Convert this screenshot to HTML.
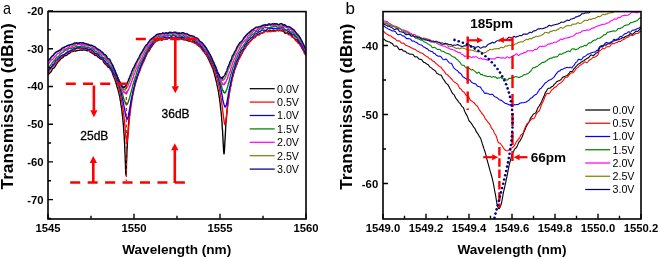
<!DOCTYPE html>
<html><head><meta charset="utf-8"><style>
html,body{margin:0;padding:0;background:#fff;width:660px;height:259px;overflow:hidden}
svg{display:block;will-change:transform}
text{font-family:"Liberation Sans", sans-serif;fill:#000}
.tk{font-size:11.3px;font-weight:bold}
.lg{font-size:10.7px}
.an{font-size:12px;stroke:#000;stroke-width:0.3px}
.an2{font-size:13.5px;font-weight:bold}
.ax{font-size:13.6px;font-weight:bold}
.ay{font-size:17.3px;font-weight:bold}
.pl{font-size:16px}
</style></head><body>
<svg width="660" height="259" viewBox="0 0 660 259">
<defs>
<clipPath id="cl"><rect x="48.0" y="11.0" width="258.0" height="207.5"/></clipPath>
<clipPath id="cr"><rect x="383.0" y="11.0" width="258.0" height="207.0"/></clipPath>
</defs>
<g clip-path="url(#cl)" fill="none" stroke-width="1.35" stroke-linejoin="round">
<path d="M48.0 74.8l0.5 -0.5l0.5 -0.4l0.5 -0.7l0.5 -0.5l0.5 -0.4l0.5 -0.5l0.5 -0.8l0.5 -1.2l0.5 -1.0l0.5 -0.4l0.5 -0.2l0.5 -0.3l0.5 -0.5l0.5 -0.7l0.5 -0.9l0.5 -0.9l0.5 -0.8l0.4 -0.7l0.5 -0.6l0.5 -0.8l0.5 -0.7l0.5 -0.4l0.5 -0.3l0.5 -0.6l0.5 -0.7l0.5 -0.7l0.5 -0.2l0.5 -0.3l0.5 -0.4l0.5 -0.3l0.5 -0.5l0.5 -0.6l0.5 -0.5l0.5 -0.2l0.5 0.1l0.5 -0.1l0.5 -0.3l0.5 -0.3l0.5 -0.3l0.5 -0.6l0.5 -0.5l0.5 -0.1l0.5 -0.1l0.5 -0.4l0.5 -0.6l0.5 -0.5l0.5 -0.3l0.5 -0.1l0.5 -0.1l0.5 0.1l0.5 -0.1l0.4 -0.3l0.5 -0.2l0.5 0.0l0.5 0.1l0.5 0.0l0.5 -0.1l0.5 -0.3l0.5 -0.2l0.5 0.1l0.5 -0.1l0.5 -0.1l0.5 -0.0l0.5 0.1l0.5 -0.2l0.5 -0.4l0.5 0.0l0.5 0.4l0.5 -0.0l0.5 -0.2l0.5 -0.2l0.5 -0.0l0.5 0.2l0.5 0.2l0.5 -0.1l0.5 -0.0l0.5 0.2l0.5 0.4l0.5 0.0l0.5 -0.3l0.5 -0.1l0.5 0.1l0.5 0.4l0.5 0.5l0.5 0.7l0.5 0.4l0.4 0.2l0.5 0.2l0.5 0.4l0.5 0.4l0.5 0.2l0.5 0.1l0.5 0.5l0.5 0.7l0.5 0.4l0.5 -0.1l0.5 -0.1l0.5 0.3l0.5 0.5l0.5 0.6l0.5 0.4l0.5 0.3l0.5 0.4l0.5 0.5l0.5 0.5l0.5 0.2l0.5 0.2l0.5 0.1l0.5 0.1l0.5 0.6l0.5 1.1l0.5 1.1l0.5 0.8l0.5 0.5l0.5 0.5l0.5 0.5l0.5 0.2l0.5 0.5l0.5 0.8l0.5 0.8l0.5 0.3l0.4 0.2l0.5 0.1l0.5 0.5l0.5 0.9l0.5 0.8l0.5 0.8l0.5 0.8l0.5 1.0l0.5 1.4l0.5 1.6l0.5 1.3l0.5 1.1l0.5 1.0l0.5 1.3l0.0 0.3l0.1 0.4l0.1 0.5l0.2 0.4l0.1 0.3l0.0 -0.4l0.1 0.1l0.2 0.7l0.1 1.0l0.1 0.6l0.0 -0.1l0.1 -0.0l0.2 0.1l0.1 0.5l0.1 0.3l0.0 0.3l0.2 0.7l0.1 0.6l0.1 0.5l0.1 0.1l0.1 0.3l0.1 0.5l0.1 0.4l0.1 0.2l0.1 0.1l0.1 0.2l0.1 0.4l0.1 0.3l0.2 0.4l-0.0 0.3l0.1 0.7l0.1 0.6l0.2 0.4l0.1 0.4l-0.0 -0.3l0.1 0.4l0.1 0.6l0.2 0.6l0.1 0.6l0.0 0.3l0.1 0.7l0.2 0.6l0.1 0.3l0.1 0.1l0.0 0.0l0.2 0.9l0.1 1.0l0.1 1.0l0.1 0.4l0.0 0.3l0.2 0.8l0.1 0.6l0.1 0.6l0.1 0.2l0.1 0.6l0.1 1.0l0.1 1.1l0.2 1.1l-0.0 0.2l0.1 0.5l0.1 0.5l0.1 0.6l0.2 0.8l-0.0 -0.2l0.1 0.9l0.1 1.2l0.2 1.4l0.1 1.2l-0.0 0.3l0.1 1.0l0.1 1.0l0.2 0.9l0.1 0.6l0.0 0.3l0.1 1.5l0.2 1.4l0.1 1.4l0.1 0.7l0.0 0.7l0.2 1.4l0.1 1.5l0.1 1.7l0.1 0.7l0.0 1.4l0.2 1.8l0.1 1.7l0.1 1.6l0.1 -0.0l0.1 1.7l0.1 2.5l0.1 2.5l0.2 2.4l-0.0 -0.0l0.1 2.6l0.1 3.1l0.1 3.1l0.2 2.6l-0.0 0.4l0.1 3.4l0.1 3.6l0.2 3.5l0.0 2.4l0.1 1.4l0.1 3.3l0.2 1.9l0.1 0.5l0.0 -0.5l0.1 -0.5l0.1 -2.0l0.2 -3.3l0.1 -4.0l0.0 -1.5l0.1 -2.5l0.2 -3.5l0.1 -3.5l0.1 -3.4l0.0 -0.5l0.2 -2.5l0.1 -2.7l0.1 -2.6l0.1 -2.3l0.0 -0.1l0.2 -2.4l0.1 -2.1l0.1 -1.8l0.1 -1.4l0.1 -0.5l0.1 -2.3l0.1 -2.1l0.2 -1.8l0.0 -1.0l0.1 -0.5l0.1 -1.4l0.1 -1.4l0.2 -1.4l0.0 -0.6l0.1 -0.9l0.1 -1.3l0.2 -1.1l0.1 -1.2l0.0 -0.5l0.1 -0.9l0.1 -0.9l0.2 -0.9l0.1 -1.0l0.0 -0.0l0.1 -0.8l0.2 -1.2l0.1 -1.2l0.1 -0.9l0.0 -0.2l0.2 -0.8l0.1 -0.6l0.1 -0.6l0.1 -0.5l0.0 -0.5l0.2 -1.2l0.1 -0.9l0.1 -0.9l0.1 -0.4l0.1 -0.1l0.1 -0.3l0.1 -0.4l0.2 -0.7l0.0 -0.4l0.1 -0.4l0.1 -0.7l0.1 -0.7l0.2 -0.6l0.0 -0.1l0.1 -0.7l0.1 -1.0l0.2 -0.9l0.1 -0.9l0.0 -0.0l0.1 -0.2l0.2 -0.1l0.1 -0.5l0.1 -0.9l0.0 -0.4l0.1 -0.6l0.2 -0.4l0.1 -0.4l0.1 -0.3l0.0 0.0l0.2 -0.3l0.1 -0.2l0.1 -0.5l0.1 -0.3l0.1 -0.4l0.1 -0.8l0.1 -0.9l0.1 -1.0l0.1 -0.5l0.1 -0.1l0.1 -0.1l0.1 -0.3l0.2 -0.4l-0.0 0.0l0.1 -0.1l0.1 -0.1l0.3 -0.7l0.5 -1.9l0.5 -1.9l0.5 -1.6l0.5 -1.3l0.5 -1.3l0.5 -1.4l0.5 -1.4l0.5 -1.4l0.5 -1.4l0.5 -1.1l0.5 -1.1l0.5 -1.1l0.5 -1.1l0.4 -1.2l0.5 -1.2l0.5 -1.4l0.5 -1.1l0.5 -0.6l0.5 -0.7l0.5 -1.0l0.5 -1.1l0.5 -1.0l0.5 -1.0l0.5 -0.9l0.5 -0.5l0.5 -0.4l0.5 -0.6l0.5 -1.1l0.5 -1.2l0.5 -0.6l0.5 -0.5l0.5 -0.8l0.5 -0.8l0.5 -0.7l0.5 -0.6l0.5 -0.8l0.5 -0.7l0.5 -0.5l0.5 -0.6l0.5 -0.5l0.5 -0.2l0.5 -0.0l0.5 -0.1l0.5 -0.3l0.5 -0.3l0.5 -0.3l0.5 -0.2l0.4 -0.2l0.5 -0.1l0.5 0.2l0.5 0.5l0.5 0.1l0.5 -0.3l0.5 -0.4l0.5 -0.2l0.5 0.0l0.5 0.1l0.5 0.0l0.5 -0.2l0.5 -0.3l0.5 -0.0l0.5 0.2l0.5 -0.0l0.5 -0.4l0.5 -0.4l0.5 -0.1l0.5 -0.1l0.5 -0.3l0.5 -0.3l0.5 -0.1l0.5 0.1l0.5 0.0l0.5 0.1l0.5 0.2l0.5 0.0l0.5 -0.1l0.5 -0.1l0.5 0.2l0.5 0.3l0.5 -0.0l0.5 -0.2l0.5 0.1l0.4 -0.0l0.5 0.0l0.5 0.2l0.5 0.2l0.5 -0.0l0.5 -0.2l0.5 -0.0l0.5 0.2l0.5 0.2l0.5 0.2l0.5 0.2l0.5 0.4l0.5 0.3l0.5 0.1l0.5 0.1l0.5 -0.1l0.5 -0.1l0.5 0.1l0.5 0.2l0.5 0.2l0.5 0.2l0.5 0.3l0.5 0.2l0.5 0.1l0.5 -0.1l0.5 0.1l0.5 0.3l0.5 0.0l0.5 0.1l0.5 0.1l0.5 0.2l0.5 0.2l0.5 0.5l0.5 0.3l0.5 0.1l0.4 -0.2l0.5 0.1l0.5 0.4l0.5 0.6l0.5 0.4l0.5 0.4l0.5 0.3l0.5 0.4l0.5 0.5l0.5 0.6l0.5 0.4l0.5 0.1l0.5 0.0l0.5 0.5l0.5 1.0l0.5 1.2l0.5 0.9l0.5 0.5l0.5 0.5l0.5 0.6l0.5 0.7l0.5 0.8l0.5 0.7l0.5 0.7l0.5 0.7l0.5 0.6l0.5 1.0l0.5 1.2l0.5 1.1l0.5 0.8l0.5 1.1l0.5 1.2l0.5 1.1l0.5 1.0l0.4 1.0l0.5 1.1l0.5 1.1l0.5 1.2l0.1 0.2l0.1 0.5l0.2 0.4l0.1 0.5l0.0 0.4l0.1 0.6l0.2 0.3l0.1 0.2l0.1 0.3l0.0 0.1l0.2 0.4l0.1 0.4l0.1 0.4l0.1 0.6l0.0 0.3l0.2 0.5l0.1 0.5l0.1 0.4l0.1 0.2l0.1 -0.1l0.1 0.4l0.1 0.7l0.2 0.7l0.0 0.3l0.1 0.4l0.1 0.7l0.1 0.5l0.2 0.3l0.0 0.1l0.1 0.4l0.1 0.7l0.2 0.5l0.1 0.2l0.0 -0.2l0.1 0.5l0.2 0.8l0.1 0.8l0.1 0.8l0.0 0.1l0.1 0.5l0.2 0.5l0.1 0.7l0.1 0.4l0.0 -0.3l0.2 0.5l0.1 0.8l0.1 0.9l0.1 0.5l0.1 0.3l0.1 0.8l0.1 0.5l0.1 0.7l0.1 0.4l0.1 0.5l0.1 0.9l0.1 0.8l0.2 0.8l0.0 0.5l0.1 0.7l0.1 1.0l0.2 0.7l0.1 0.5l0.0 -0.1l0.1 0.8l0.1 1.0l0.2 1.1l0.1 0.9l0.1 0.9l0.2 1.5l0.1 1.9l0.1 1.3l0.0 -0.2l0.1 0.5l0.2 1.0l0.1 1.3l0.1 0.8l0.0 0.5l0.2 1.2l0.1 1.2l0.1 1.4l0.1 0.9l0.1 0.9l0.1 1.5l0.1 1.4l0.1 1.4l0.1 0.7l0.1 1.9l0.1 2.3l0.1 1.8l0.2 1.6l-0.0 -0.0l0.1 2.0l0.1 2.5l0.2 2.5l0.1 2.2l-0.0 0.0l0.1 2.4l0.1 2.4l0.2 2.3l0.1 1.8l0.0 0.5l0.1 2.3l0.2 1.9l0.1 1.0l0.1 0.2l0.0 -0.2l0.2 -0.4l0.1 -0.9l0.1 -1.4l0.1 -0.9l0.0 -1.3l0.2 -2.6l0.1 -2.6l0.1 -2.6l0.1 -0.7l0.1 -1.4l0.1 -2.3l0.1 -2.5l0.2 -2.3l-0.0 -0.4l0.1 -2.3l0.1 -2.3l0.1 -2.0l0.2 -1.9l-0.0 -0.2l0.1 -1.5l0.1 -1.3l0.2 -1.4l0.1 -1.1l-0.0 -0.1l0.1 -1.4l0.2 -1.7l0.1 -1.6l0.1 -1.0l0.0 -0.6l0.1 -1.3l0.2 -1.1l0.1 -1.3l0.1 -0.7l0.0 -0.9l0.2 -1.2l0.1 -1.0l0.1 -1.0l0.1 -0.2l0.0 -0.7l0.2 -1.0l0.1 -0.9l0.1 -0.8l0.1 0.1l0.1 -0.7l0.1 -1.0l0.1 -1.2l0.1 -0.9l0.1 0.1l0.1 -0.7l0.1 -0.7l0.1 -0.5l0.1 -0.5l0.1 -0.3l0.1 -0.8l0.1 -0.8l0.2 -0.9l0.0 -0.7l0.1 -0.6l0.1 -1.0l0.2 -0.8l0.1 -0.5l0.0 0.2l0.1 0.1l0.1 -0.4l0.2 -0.5l0.1 -0.7l0.0 -0.5l0.1 -1.1l0.2 -0.9l0.1 -0.5l0.1 -0.2l0.0 0.1l0.2 -0.6l0.1 -0.7l0.1 -0.8l0.1 -0.9l0.0 -0.4l0.2 -0.5l0.1 -0.3l0.1 -0.2l0.1 -0.2l0.1 -0.3l0.1 -0.5l0.1 -0.1l0.2 -0.1l0.0 -0.1l0.1 -0.4l0.1 -0.7l0.1 -0.3l0.2 -0.2l0.0 -0.2l0.1 -0.6l0.1 -0.8l0.2 -0.4l0.1 -0.4l0.5 -1.6l0.5 -1.7l0.5 -1.4l0.5 -1.3l0.5 -1.1l0.5 -1.1l0.5 -1.3l0.5 -1.5l0.5 -1.5l0.5 -1.2l0.5 -0.8l0.5 -0.6l0.5 -1.1l0.5 -1.1l0.5 -0.8l0.5 -0.7l0.5 -0.9l0.5 -1.2l0.5 -1.0l0.5 -0.7l0.5 -0.7l0.5 -0.6l0.5 -0.7l0.4 -1.0l0.5 -1.2l0.5 -0.6l0.5 -0.5l0.5 -0.5l0.5 -0.6l0.5 -0.6l0.5 -0.6l0.5 -0.5l0.5 -0.5l0.5 -0.5l0.5 -0.4l0.5 -0.5l0.5 -0.6l0.5 -0.7l0.5 -0.7l0.5 -0.5l0.5 -0.2l0.5 -0.2l0.5 -0.3l0.5 -0.6l0.5 -0.5l0.5 -0.4l0.5 -0.3l0.5 -0.2l0.5 -0.2l0.5 -0.3l0.5 -0.3l0.5 -0.4l0.5 -0.3l0.5 -0.0l0.5 0.1l0.5 -0.0l0.5 -0.2l0.5 -0.2l0.4 -0.4l0.5 -0.5l0.5 -0.5l0.5 -0.4l0.5 -0.2l0.5 0.1l0.5 0.2l0.5 0.2l0.5 0.2l0.5 -0.1l0.5 -0.5l0.5 -0.5l0.5 -0.0l0.5 -0.0l0.5 0.0l0.5 0.2l0.5 0.4l0.5 0.1l0.5 -0.2l0.5 -0.5l0.5 -0.3l0.5 0.2l0.5 0.3l0.5 0.1l0.5 0.1l0.5 -0.1l0.5 -0.3l0.5 -0.3l0.5 -0.0l0.5 0.3l0.5 0.3l0.5 0.0l0.5 -0.3l0.5 -0.1l0.5 0.3l0.4 0.1l0.5 -0.1l0.5 -0.0l0.5 0.2l0.5 0.2l0.5 0.1l0.5 0.3l0.5 0.5l0.5 0.8l0.5 0.5l0.5 -0.0l0.5 -0.2l0.5 -0.3l0.5 -0.1l0.5 0.3l0.5 0.3l0.5 0.2l0.5 0.3l0.5 0.3l0.5 0.2l0.5 0.2l0.5 0.4l0.5 0.4l0.5 0.6l0.5 0.6l0.5 0.7l0.5 0.6l0.5 0.4l0.5 0.3l0.5 0.5l0.5 0.5l0.5 0.3l0.5 0.1l0.5 0.2l0.4 0.6l0.5 0.6l0.5 0.6l0.5 0.8l0.5 1.1l0.5 0.9l0.5 0.7l0.5 0.9l0.5 1.1l0.5 1.0l0.5 0.9l0.5 0.6l0.5 0.5l0.5 0.7l0.5 1.1l0.5 1.5l0.5 1.1l0.5 0.8" stroke="#000000"/>
<path d="M48.0 73.2l0.5 -1.1l0.5 -0.8l0.5 -0.7l0.5 -0.8l0.5 -1.0l0.5 -1.0l0.5 -0.6l0.5 -0.3l0.5 -0.3l0.5 -0.4l0.5 -0.4l0.5 -0.6l0.5 -0.5l0.5 -0.4l0.5 -0.6l0.5 -0.7l0.5 -0.6l0.4 -0.5l0.5 -0.6l0.5 -0.7l0.5 -0.6l0.5 -0.5l0.5 -0.6l0.5 -0.8l0.5 -0.6l0.5 -0.2l0.5 0.1l0.5 -0.3l0.5 -0.8l0.5 -0.9l0.5 -0.4l0.5 -0.2l0.5 -0.1l0.5 -0.2l0.5 -0.5l0.5 -0.5l0.5 -0.2l0.5 -0.1l0.5 -0.2l0.5 -0.4l0.5 -0.3l0.5 -0.2l0.5 -0.2l0.5 -0.4l0.5 -0.4l0.5 -0.0l0.5 0.1l0.5 -0.1l0.5 -0.3l0.5 -0.3l0.5 -0.0l0.4 -0.3l0.5 -0.5l0.5 -0.5l0.5 -0.1l0.5 -0.2l0.5 -0.2l0.5 -0.2l0.5 -0.1l0.5 -0.1l0.5 -0.1l0.5 0.2l0.5 0.2l0.5 0.3l0.5 0.2l0.5 0.1l0.5 -0.2l0.5 -0.1l0.5 -0.1l0.5 -0.1l0.5 -0.1l0.5 0.2l0.5 0.2l0.5 -0.0l0.5 -0.0l0.5 -0.0l0.5 -0.2l0.5 -0.1l0.5 0.2l0.5 0.6l0.5 0.4l0.5 0.6l0.5 0.7l0.5 0.5l0.5 -0.1l0.5 -0.3l0.4 -0.2l0.5 0.4l0.5 0.6l0.5 0.4l0.5 0.3l0.5 0.3l0.5 0.3l0.5 0.2l0.5 0.2l0.5 0.2l0.5 0.1l0.5 0.2l0.5 0.4l0.5 0.4l0.5 0.3l0.5 0.4l0.5 0.6l0.5 0.7l0.5 0.5l0.5 0.3l0.5 0.4l0.5 0.4l0.5 0.6l0.5 0.7l0.5 0.4l0.5 0.3l0.5 0.6l0.5 0.7l0.5 0.7l0.5 0.7l0.5 0.7l0.5 0.4l0.5 0.2l0.5 0.6l0.5 0.6l0.4 0.5l0.5 0.3l0.5 0.5l0.5 1.0l0.5 0.9l0.5 0.7l0.5 0.6l0.5 0.9l0.5 1.0l0.5 0.8l0.5 0.9l0.5 1.2l0.5 1.2l0.5 1.2l0.0 0.1l0.1 0.1l0.1 0.3l0.2 0.2l0.1 0.1l0.0 0.2l0.1 0.6l0.2 0.2l0.1 0.1l0.1 0.1l0.0 0.1l0.1 0.6l0.2 0.7l0.1 0.4l0.1 0.2l0.0 -0.1l0.2 0.3l0.1 0.2l0.1 0.2l0.1 0.2l0.1 0.2l0.1 0.3l0.1 0.5l0.1 1.0l0.1 0.6l0.1 0.2l0.1 0.1l0.1 0.5l0.2 0.6l-0.0 -0.0l0.1 -0.1l0.1 0.2l0.2 0.6l0.1 0.6l-0.0 0.1l0.1 0.5l0.1 0.3l0.2 0.1l0.1 0.2l0.0 0.0l0.1 0.7l0.2 0.7l0.1 0.7l0.1 0.5l0.0 0.1l0.2 0.3l0.1 0.4l0.1 0.6l0.1 0.3l0.0 0.3l0.2 0.5l0.1 0.5l0.1 0.6l0.1 0.5l0.1 0.8l0.1 0.8l0.1 0.5l0.2 0.3l-0.0 -0.2l0.1 0.5l0.1 0.7l0.1 0.4l0.2 0.4l-0.0 -0.0l0.1 0.9l0.1 0.9l0.2 0.9l0.1 0.7l-0.0 0.1l0.1 0.8l0.1 1.1l0.2 1.2l0.1 0.9l0.0 0.1l0.1 0.3l0.2 0.4l0.1 1.0l0.1 0.8l0.0 0.7l0.2 0.7l0.1 0.9l0.1 1.0l0.1 0.1l0.0 0.5l0.2 1.0l0.1 1.1l0.1 1.3l0.1 0.4l0.1 1.3l0.1 1.3l0.1 1.1l0.2 1.3l-0.0 0.2l0.1 1.2l0.1 0.9l0.1 0.8l0.2 1.1l-0.0 0.7l0.1 1.9l0.1 1.7l0.2 1.4l0.0 1.0l0.1 0.5l0.1 1.2l0.2 1.2l0.1 1.2l0.0 0.4l0.1 0.4l0.1 1.0l0.2 0.8l0.1 0.8l0.0 0.4l0.1 0.5l0.2 0.4l0.1 0.2l0.1 -0.0l0.0 0.0l0.2 -0.4l0.1 -0.7l0.1 -1.0l0.1 -1.2l0.0 0.0l0.2 -1.1l0.1 -1.3l0.1 -1.1l0.1 -0.7l0.1 -0.4l0.1 -1.7l0.1 -1.3l0.2 -1.0l0.0 -0.8l0.1 -0.8l0.1 -1.7l0.1 -1.6l0.2 -1.6l0.0 -0.5l0.1 -0.8l0.1 -1.6l0.2 -1.5l0.1 -1.3l0.0 -0.4l0.1 -0.9l0.1 -0.9l0.2 -0.8l0.1 -0.9l0.0 -0.2l0.1 -1.5l0.2 -1.5l0.1 -1.2l0.1 -0.8l0.0 0.2l0.2 -0.5l0.1 -0.8l0.1 -1.1l0.1 -0.9l0.0 0.0l0.2 -0.6l0.1 -0.7l0.1 -0.9l0.1 -0.7l0.1 -0.4l0.1 -1.0l0.1 -1.1l0.2 -0.9l0.0 -0.2l0.1 -0.0l0.1 -0.7l0.1 -1.3l0.2 -1.3l0.0 -0.2l0.1 -0.3l0.1 -0.4l0.2 -0.4l0.1 -0.4l0.0 -0.1l0.1 -0.8l0.2 -0.9l0.1 -0.6l0.1 -0.3l0.0 -0.1l0.1 -0.6l0.2 -0.4l0.1 -0.3l0.1 -0.4l0.0 -0.6l0.2 -1.0l0.1 -0.7l0.1 -0.4l0.1 -0.2l0.1 -0.2l0.1 -0.4l0.1 -0.3l0.1 -0.6l0.1 -0.5l0.1 -0.5l0.1 -0.6l0.1 -0.5l0.2 -0.4l-0.0 0.2l0.1 -0.2l0.1 -0.6l0.3 -1.1l0.5 -1.6l0.5 -1.5l0.5 -1.5l0.5 -1.5l0.5 -1.4l0.5 -1.3l0.5 -1.1l0.5 -1.2l0.5 -1.5l0.5 -1.4l0.5 -1.3l0.5 -1.2l0.5 -1.0l0.4 -1.1l0.5 -0.9l0.5 -0.8l0.5 -1.1l0.5 -1.2l0.5 -1.4l0.5 -1.4l0.5 -1.4l0.5 -1.2l0.5 -1.1l0.5 -0.9l0.5 -0.8l0.5 -0.9l0.5 -0.8l0.5 -0.6l0.5 -0.8l0.5 -0.9l0.5 -0.8l0.5 -0.7l0.5 -0.7l0.5 -0.5l0.5 -0.5l0.5 -0.5l0.5 -0.5l0.5 -0.4l0.5 -0.5l0.5 -0.7l0.5 -0.7l0.5 -0.3l0.5 -0.0l0.5 0.0l0.5 0.2l0.5 -0.0l0.5 -0.2l0.4 -0.3l0.5 -0.1l0.5 -0.0l0.5 0.1l0.5 0.2l0.5 -0.1l0.5 -0.4l0.5 -0.2l0.5 0.2l0.5 0.1l0.5 -0.2l0.5 -0.2l0.5 0.1l0.5 -0.1l0.5 -0.2l0.5 -0.4l0.5 -0.2l0.5 -0.2l0.5 -0.3l0.5 0.0l0.5 0.1l0.5 -0.2l0.5 -0.3l0.5 -0.3l0.5 0.2l0.5 0.4l0.5 0.3l0.5 0.1l0.5 -0.2l0.5 -0.1l0.5 -0.2l0.5 -0.1l0.5 0.1l0.5 0.2l0.5 0.4l0.4 0.3l0.5 0.0l0.5 -0.2l0.5 -0.1l0.5 0.0l0.5 0.2l0.5 0.3l0.5 0.3l0.5 0.3l0.5 0.0l0.5 -0.2l0.5 -0.0l0.5 -0.1l0.5 -0.2l0.5 0.0l0.5 0.5l0.5 0.3l0.5 0.2l0.5 -0.0l0.5 -0.1l0.5 -0.0l0.5 -0.0l0.5 -0.1l0.5 -0.1l0.5 0.1l0.5 0.5l0.5 0.7l0.5 0.5l0.5 0.4l0.5 0.2l0.5 0.1l0.5 0.1l0.5 0.1l0.5 0.2l0.5 0.4l0.4 0.3l0.5 0.0l0.5 0.1l0.5 0.6l0.5 0.7l0.5 0.4l0.5 -0.1l0.5 -0.1l0.5 0.3l0.5 0.5l0.5 0.7l0.5 0.7l0.5 0.7l0.5 0.7l0.5 0.7l0.5 0.6l0.5 0.5l0.5 0.6l0.5 0.4l0.5 0.5l0.5 0.7l0.5 0.8l0.5 0.6l0.5 0.5l0.5 0.8l0.5 0.9l0.5 0.7l0.5 0.6l0.5 0.7l0.5 0.7l0.5 0.7l0.5 1.3l0.5 1.3l0.5 1.2l0.4 0.8l0.5 0.9l0.5 1.2l0.5 1.5l0.1 0.2l0.1 0.0l0.2 0.1l0.1 0.3l0.0 0.1l0.1 0.2l0.2 0.3l0.1 0.2l0.1 0.4l0.0 0.2l0.2 0.4l0.1 0.4l0.1 0.4l0.1 0.1l0.0 -0.2l0.2 0.3l0.1 0.5l0.1 0.6l0.1 0.3l0.1 0.2l0.1 0.3l0.1 0.3l0.2 0.5l0.0 0.5l0.1 0.4l0.1 0.3l0.1 0.2l0.2 0.2l0.0 0.2l0.1 0.3l0.1 0.3l0.2 0.2l0.1 0.4l0.0 0.3l0.1 0.3l0.2 0.5l0.1 0.5l0.1 0.5l0.0 0.0l0.1 0.6l0.2 0.4l0.1 0.4l0.1 0.4l0.0 0.2l0.2 0.6l0.1 0.4l0.1 0.2l0.1 0.1l0.1 0.1l0.1 0.6l0.1 0.9l0.1 0.8l0.1 0.3l0.1 0.2l0.1 0.3l0.1 0.5l0.2 0.6l0.0 0.0l0.1 0.2l0.1 0.7l0.2 0.8l0.1 0.8l0.0 0.3l0.1 0.7l0.1 0.9l0.2 0.8l0.1 0.7l0.1 0.7l0.2 0.7l0.1 0.6l0.1 0.7l0.0 0.3l0.1 0.8l0.2 1.0l0.1 0.9l0.1 0.6l0.0 0.0l0.2 0.5l0.1 0.6l0.1 0.8l0.1 0.5l0.1 0.6l0.1 1.1l0.1 0.7l0.1 0.8l0.1 0.3l0.1 0.8l0.1 1.1l0.1 1.0l0.2 1.0l-0.0 0.3l0.1 1.1l0.1 1.2l0.2 1.0l0.1 0.7l-0.0 -0.3l0.1 1.1l0.1 1.3l0.2 1.2l0.1 0.8l0.0 0.2l0.1 1.1l0.2 0.7l0.1 0.7l0.1 0.7l0.0 0.7l0.2 1.1l0.1 0.7l0.1 0.8l0.1 0.3l0.0 0.3l0.2 0.4l0.1 0.1l0.1 -0.5l0.1 -0.4l0.1 -0.3l0.1 -0.2l0.1 -0.4l0.2 -0.6l-0.0 -0.1l0.1 -0.3l0.1 -0.3l0.1 -0.7l0.2 -0.9l-0.0 -0.2l0.1 -0.9l0.1 -1.0l0.2 -1.3l0.1 -1.1l-0.0 -0.3l0.1 -0.8l0.2 -0.7l0.1 -0.9l0.1 -0.8l0.0 -0.8l0.1 -1.4l0.2 -1.0l0.1 -0.8l0.1 -0.3l0.0 -0.6l0.2 -0.8l0.1 -0.7l0.1 -0.9l0.1 -0.6l0.0 -1.2l0.2 -1.3l0.1 -0.8l0.1 -0.8l0.1 -0.2l0.1 -1.0l0.1 -0.9l0.1 -1.0l0.1 -1.1l0.1 -0.1l0.1 -0.7l0.1 -0.6l0.1 -0.8l0.1 -0.7l0.1 -0.3l0.1 -0.9l0.1 -0.8l0.2 -0.6l0.0 -0.2l0.1 -0.1l0.1 -0.8l0.2 -0.8l0.1 -0.8l0.0 -0.2l0.1 -0.2l0.1 -0.7l0.2 -0.8l0.1 -0.6l0.0 -0.2l0.1 -0.6l0.2 -0.3l0.1 -0.3l0.1 -0.7l0.0 -0.5l0.2 -0.8l0.1 -0.5l0.1 -0.5l0.1 -0.4l0.0 0.1l0.2 -0.7l0.1 -0.7l0.1 -0.7l0.1 -0.5l0.1 -0.1l0.1 -0.4l0.1 -0.3l0.2 -0.6l0.0 -0.5l0.1 -0.3l0.1 -0.3l0.1 -0.2l0.2 -0.3l0.0 -0.2l0.1 -0.3l0.1 -0.6l0.2 -0.6l0.1 -0.8l0.5 -1.7l0.5 -1.5l0.5 -1.4l0.5 -1.2l0.5 -1.0l0.5 -1.4l0.5 -1.7l0.5 -1.5l0.5 -0.9l0.5 -0.7l0.5 -0.7l0.5 -0.9l0.5 -1.1l0.5 -1.1l0.5 -1.1l0.5 -1.1l0.5 -1.2l0.5 -1.3l0.5 -0.8l0.5 -0.4l0.5 -0.4l0.5 -0.5l0.5 -0.7l0.4 -1.0l0.5 -0.8l0.5 -0.6l0.5 -0.5l0.5 -0.4l0.5 -0.5l0.5 -0.8l0.5 -0.9l0.5 -0.6l0.5 -0.5l0.5 -0.5l0.5 -0.6l0.5 -0.8l0.5 -0.8l0.5 -0.5l0.5 -0.1l0.5 0.1l0.5 -0.0l0.5 -0.3l0.5 -0.4l0.5 -0.7l0.5 -0.8l0.5 -0.5l0.5 -0.2l0.5 -0.0l0.5 -0.0l0.5 -0.1l0.5 -0.2l0.5 -0.3l0.5 -0.5l0.5 -0.4l0.5 -0.2l0.5 -0.1l0.5 -0.1l0.5 -0.3l0.4 -0.3l0.5 -0.1l0.5 -0.2l0.5 -0.4l0.5 -0.5l0.5 -0.3l0.5 -0.0l0.5 0.3l0.5 0.4l0.5 0.1l0.5 -0.5l0.5 -0.5l0.5 0.2l0.5 0.5l0.5 0.2l0.5 -0.1l0.5 -0.2l0.5 -0.3l0.5 -0.1l0.5 0.1l0.5 0.2l0.5 0.1l0.5 -0.0l0.5 -0.3l0.5 -0.1l0.5 -0.0l0.5 -0.2l0.5 -0.2l0.5 -0.1l0.5 0.1l0.5 0.0l0.5 -0.2l0.5 -0.3l0.5 -0.2l0.5 0.1l0.4 0.4l0.5 0.3l0.5 0.1l0.5 -0.1l0.5 -0.0l0.5 0.0l0.5 0.0l0.5 0.1l0.5 0.3l0.5 0.5l0.5 0.4l0.5 0.3l0.5 0.5l0.5 0.4l0.5 0.5l0.5 0.5l0.5 0.5l0.5 0.1l0.5 -0.1l0.5 0.1l0.5 0.3l0.5 0.7l0.5 0.8l0.5 0.5l0.5 0.1l0.5 0.1l0.5 0.2l0.5 0.5l0.5 0.8l0.5 0.9l0.5 0.7l0.5 0.4l0.5 0.4l0.5 0.5l0.4 0.7l0.5 0.6l0.5 0.3l0.5 0.2l0.5 0.5l0.5 0.7l0.5 0.8l0.5 0.7l0.5 0.7l0.5 0.7l0.5 1.0l0.5 1.1l0.5 1.2l0.5 1.4l0.5 1.2l0.5 0.6l0.5 0.0l0.5 0.3" stroke="#ff0000"/>
<path d="M48.0 71.2l0.5 -0.8l0.5 -0.8l0.5 -0.7l0.5 -0.5l0.5 -0.3l0.5 -0.2l0.5 -0.7l0.5 -1.1l0.5 -1.0l0.5 -0.5l0.5 -0.4l0.5 -0.5l0.5 -0.7l0.5 -1.0l0.5 -1.0l0.5 -0.7l0.5 -0.3l0.4 -0.2l0.5 -0.6l0.5 -0.6l0.5 -0.4l0.5 -0.4l0.5 -0.3l0.5 -0.4l0.5 -0.6l0.5 -0.5l0.5 -0.3l0.5 -0.3l0.5 -0.3l0.5 -0.1l0.5 -0.2l0.5 -0.2l0.5 -0.3l0.5 -0.3l0.5 -0.5l0.5 -0.4l0.5 -0.4l0.5 -0.2l0.5 -0.4l0.5 -0.5l0.5 -0.2l0.5 -0.1l0.5 -0.2l0.5 -0.3l0.5 -0.2l0.5 -0.2l0.5 -0.3l0.5 -0.3l0.5 -0.3l0.5 -0.2l0.5 -0.3l0.4 -0.3l0.5 -0.1l0.5 0.0l0.5 0.1l0.5 -0.2l0.5 -0.3l0.5 -0.3l0.5 -0.4l0.5 -0.3l0.5 0.1l0.5 0.2l0.5 -0.0l0.5 -0.0l0.5 0.2l0.5 0.3l0.5 0.0l0.5 -0.1l0.5 -0.0l0.5 0.2l0.5 0.0l0.5 -0.2l0.5 0.0l0.5 0.3l0.5 0.1l0.5 0.0l0.5 0.2l0.5 0.3l0.5 0.3l0.5 0.1l0.5 0.0l0.5 0.1l0.5 0.2l0.5 -0.0l0.5 -0.1l0.5 0.2l0.4 0.3l0.5 0.3l0.5 0.3l0.5 0.2l0.5 0.4l0.5 0.6l0.5 0.6l0.5 0.5l0.5 0.3l0.5 0.3l0.5 0.2l0.5 0.2l0.5 0.1l0.5 0.2l0.5 0.5l0.5 0.5l0.5 0.8l0.5 0.7l0.5 0.4l0.5 0.3l0.5 0.5l0.5 0.2l0.5 -0.1l0.5 0.1l0.5 0.7l0.5 0.9l0.5 0.6l0.5 0.4l0.5 0.7l0.5 0.9l0.5 0.7l0.5 0.5l0.5 0.2l0.5 0.1l0.5 0.8l0.4 1.1l0.5 0.8l0.5 0.4l0.5 0.5l0.5 0.7l0.5 0.8l0.5 0.8l0.5 1.0l0.5 1.0l0.5 1.1l0.5 0.6l0.5 0.6l0.5 0.5l0.5 0.7l0.0 -0.1l0.1 0.1l0.1 0.1l0.2 -0.1l0.1 0.1l0.0 0.1l0.1 0.4l0.2 0.3l0.1 0.3l0.1 0.6l0.0 0.3l0.1 0.5l0.2 0.2l0.1 -0.0l0.1 0.1l0.0 0.3l0.2 0.4l0.1 0.3l0.1 0.5l0.1 0.4l0.1 0.3l0.1 0.3l0.1 0.1l0.1 -0.2l0.1 -0.3l0.1 0.3l0.1 0.6l0.1 0.3l0.2 0.0l-0.0 0.1l0.1 0.7l0.1 0.9l0.2 0.6l0.1 0.4l-0.0 -0.2l0.1 0.2l0.1 0.4l0.2 0.6l0.1 0.3l0.0 -0.2l0.1 0.2l0.2 0.5l0.1 0.8l0.1 0.5l0.0 0.0l0.2 0.4l0.1 0.5l0.1 0.4l0.1 0.2l0.0 0.3l0.2 0.2l0.1 0.1l0.1 0.3l0.1 0.5l0.1 0.9l0.1 0.8l0.1 0.6l0.2 0.4l-0.0 -0.2l0.1 0.1l0.1 0.6l0.1 0.9l0.2 0.7l-0.0 -0.0l0.1 0.5l0.1 0.6l0.2 0.8l0.1 0.6l-0.0 0.1l0.1 0.3l0.1 0.1l0.2 0.2l0.1 0.4l0.0 0.6l0.1 0.9l0.2 0.5l0.1 0.6l0.1 0.6l0.0 0.3l0.2 0.3l0.1 0.5l0.1 0.8l0.1 0.4l0.0 0.5l0.2 0.7l0.1 0.7l0.1 0.5l0.1 0.1l0.1 0.6l0.1 0.7l0.1 0.6l0.2 0.7l-0.0 0.1l0.1 0.7l0.1 0.7l0.1 0.6l0.2 0.3l-0.0 0.0l0.1 1.0l0.1 1.1l0.2 0.9l0.0 0.5l0.1 0.3l0.1 0.7l0.2 0.4l0.1 0.3l0.0 -0.0l0.1 0.1l0.1 0.3l0.2 0.4l0.1 0.2l0.0 0.0l0.1 0.2l0.2 0.5l0.1 0.6l0.1 0.4l0.0 0.0l0.2 -0.1l0.1 -0.4l0.1 -0.4l0.1 -0.1l0.0 0.3l0.2 -0.1l0.1 -0.4l0.1 -0.3l0.1 -0.3l0.1 -0.2l0.1 -0.5l0.1 -0.7l0.2 -0.7l0.0 -0.6l0.1 -0.3l0.1 -0.5l0.1 -0.6l0.2 -0.8l0.0 -0.6l0.1 -0.3l0.1 -0.6l0.2 -0.6l0.1 -0.6l0.0 0.1l0.1 -0.5l0.1 -0.8l0.2 -0.9l0.1 -0.6l0.0 0.1l0.1 -0.7l0.2 -1.0l0.1 -1.0l0.1 -0.7l0.0 0.1l0.2 -1.1l0.1 -1.2l0.1 -0.6l0.1 -0.0l0.0 0.3l0.2 -0.6l0.1 -0.9l0.1 -0.8l0.1 -0.3l0.1 -0.3l0.1 -0.6l0.1 -0.6l0.2 -0.8l0.0 -0.4l0.1 -0.2l0.1 -0.4l0.1 -0.5l0.2 -0.8l0.0 -0.7l0.1 -0.7l0.1 -0.6l0.2 -0.4l0.1 -0.3l0.0 0.0l0.1 -0.7l0.2 -0.7l0.1 -0.6l0.1 -0.4l0.0 0.1l0.1 -0.6l0.2 -0.7l0.1 -0.4l0.1 -0.2l0.0 -0.1l0.2 -0.5l0.1 -0.5l0.1 -0.6l0.1 -0.4l0.1 -0.2l0.1 -0.5l0.1 -0.6l0.1 -0.4l0.1 -0.2l0.1 -0.4l0.1 -0.8l0.1 -0.5l0.2 -0.3l-0.0 -0.0l0.1 -0.4l0.1 -0.4l0.3 -0.8l0.5 -1.5l0.5 -1.4l0.5 -1.1l0.5 -1.3l0.5 -1.6l0.5 -1.6l0.5 -1.6l0.5 -1.4l0.5 -1.4l0.5 -1.2l0.5 -1.2l0.5 -1.2l0.5 -1.2l0.4 -1.1l0.5 -1.0l0.5 -0.9l0.5 -0.9l0.5 -1.1l0.5 -1.2l0.5 -1.2l0.5 -1.2l0.5 -1.3l0.5 -1.3l0.5 -0.9l0.5 -0.7l0.5 -0.7l0.5 -0.8l0.5 -0.9l0.5 -0.7l0.5 -0.8l0.5 -0.6l0.5 -0.6l0.5 -0.6l0.5 -0.7l0.5 -0.9l0.5 -0.7l0.5 -0.6l0.5 -0.5l0.5 -0.3l0.5 -0.2l0.5 -0.3l0.5 -0.3l0.5 -0.2l0.5 -0.2l0.5 -0.2l0.5 -0.1l0.5 -0.1l0.4 -0.1l0.5 0.1l0.5 0.1l0.5 -0.0l0.5 -0.2l0.5 -0.1l0.5 -0.0l0.5 -0.1l0.5 -0.1l0.5 -0.2l0.5 -0.3l0.5 -0.1l0.5 0.1l0.5 0.0l0.5 -0.1l0.5 -0.2l0.5 -0.1l0.5 0.2l0.5 0.5l0.5 0.1l0.5 -0.2l0.5 -0.2l0.5 -0.3l0.5 -0.4l0.5 -0.4l0.5 -0.3l0.5 -0.2l0.5 -0.1l0.5 0.0l0.5 0.1l0.5 0.2l0.5 0.3l0.5 0.5l0.5 0.3l0.5 0.1l0.4 0.0l0.5 0.1l0.5 -0.1l0.5 -0.2l0.5 -0.1l0.5 0.1l0.5 0.3l0.5 0.3l0.5 0.2l0.5 -0.1l0.5 -0.1l0.5 0.1l0.5 -0.0l0.5 -0.0l0.5 0.2l0.5 0.1l0.5 -0.1l0.5 0.0l0.5 0.3l0.5 0.1l0.5 -0.2l0.5 -0.1l0.5 0.2l0.5 0.3l0.5 0.4l0.5 0.2l0.5 -0.0l0.5 -0.1l0.5 -0.0l0.5 0.4l0.5 0.6l0.5 0.4l0.5 0.3l0.5 0.2l0.5 0.2l0.4 0.4l0.5 0.5l0.5 0.3l0.5 0.1l0.5 0.0l0.5 0.1l0.5 0.5l0.5 0.6l0.5 0.4l0.5 0.0l0.5 0.3l0.5 0.7l0.5 0.8l0.5 0.6l0.5 0.5l0.5 0.5l0.5 0.9l0.5 1.2l0.5 0.9l0.5 0.5l0.5 0.1l0.5 0.0l0.5 0.3l0.5 0.8l0.5 1.0l0.5 0.8l0.5 0.6l0.5 0.8l0.5 0.8l0.5 0.7l0.5 0.6l0.5 0.9l0.5 1.0l0.5 1.2l0.4 1.1l0.5 1.0l0.5 0.9l0.5 0.8l0.1 -0.1l0.1 -0.0l0.2 0.1l0.1 0.3l0.0 0.4l0.1 0.4l0.2 0.3l0.1 0.4l0.1 0.6l0.0 0.4l0.2 0.3l0.1 0.2l0.1 0.2l0.1 0.1l0.0 0.0l0.2 0.4l0.1 0.3l0.1 0.3l0.1 0.0l0.1 -0.1l0.1 0.2l0.1 0.4l0.2 0.3l0.0 0.1l0.1 0.3l0.1 0.6l0.1 0.5l0.2 0.1l0.0 -0.1l0.1 0.2l0.1 0.4l0.2 0.5l0.1 0.5l0.0 0.2l0.1 0.3l0.2 0.4l0.1 0.4l0.1 0.2l0.0 -0.3l0.1 0.4l0.2 0.9l0.1 0.9l0.1 0.7l0.0 -0.1l0.2 -0.0l0.1 0.3l0.1 0.5l0.1 0.1l0.1 -0.4l0.1 0.3l0.1 0.5l0.1 0.6l0.1 0.4l0.1 0.3l0.1 0.4l0.1 0.6l0.2 0.6l0.0 0.3l0.1 0.4l0.1 0.3l0.2 0.1l0.1 0.6l0.0 0.5l0.1 0.7l0.1 0.7l0.2 0.5l0.1 0.3l0.1 0.1l0.2 0.2l0.1 0.6l0.1 0.6l0.0 0.2l0.1 0.6l0.2 0.6l0.1 0.7l0.1 0.7l0.0 0.2l0.2 0.5l0.1 0.6l0.1 0.9l0.1 0.5l0.1 0.3l0.1 0.5l0.1 0.7l0.1 0.8l0.1 0.3l0.1 0.5l0.1 0.6l0.1 0.6l0.2 0.8l-0.0 0.5l0.1 1.0l0.1 0.8l0.2 0.4l0.1 0.4l-0.0 -0.2l0.1 0.4l0.1 0.6l0.2 0.8l0.1 0.5l0.0 -0.1l0.1 0.4l0.2 0.6l0.1 0.6l0.1 0.2l0.0 -0.0l0.2 0.3l0.1 0.4l0.1 0.3l0.1 0.4l0.0 0.5l0.2 0.3l0.1 0.0l0.1 0.2l0.1 0.3l0.1 0.1l0.1 -0.0l0.1 -0.2l0.2 -0.3l-0.0 -0.3l0.1 -0.3l0.1 -0.1l0.1 0.1l0.2 0.0l-0.0 0.1l0.1 -0.4l0.1 -0.7l0.2 -0.5l0.1 -0.3l-0.0 -0.0l0.1 -0.6l0.2 -0.5l0.1 -0.7l0.1 -0.4l0.0 -0.2l0.1 -0.4l0.2 -0.6l0.1 -0.8l0.1 -0.6l0.0 -0.7l0.2 -0.9l0.1 -0.4l0.1 -0.4l0.1 -0.1l0.0 -0.8l0.2 -1.0l0.1 -0.9l0.1 -0.7l0.1 0.2l0.1 -0.6l0.1 -0.7l0.1 -0.6l0.1 -0.7l0.1 -0.1l0.1 -0.6l0.1 -0.4l0.1 -0.6l0.1 -0.6l0.1 -0.3l0.1 -0.8l0.1 -0.7l0.2 -0.4l0.0 -0.2l0.1 -0.1l0.1 -0.5l0.2 -0.8l0.1 -0.8l0.0 -0.3l0.1 -0.5l0.1 -1.0l0.2 -0.7l0.1 -0.5l0.0 0.0l0.1 -0.4l0.2 -0.7l0.1 -0.9l0.1 -0.8l0.0 0.1l0.2 -0.1l0.1 -0.3l0.1 -0.4l0.1 -0.3l0.0 -0.2l0.2 -0.7l0.1 -0.5l0.1 -0.6l0.1 -0.7l0.1 -0.3l0.1 -0.4l0.1 -0.5l0.2 -0.6l0.0 -0.3l0.1 -0.1l0.1 -0.3l0.1 -0.5l0.2 -0.4l0.0 -0.3l0.1 -0.4l0.1 -0.4l0.2 -0.2l0.1 -0.0l0.5 -1.3l0.5 -1.6l0.5 -2.0l0.5 -1.9l0.5 -1.4l0.5 -1.1l0.5 -0.8l0.5 -1.0l0.5 -1.2l0.5 -1.1l0.5 -1.2l0.5 -1.5l0.5 -1.4l0.5 -0.9l0.5 -0.5l0.5 -0.5l0.5 -0.7l0.5 -0.6l0.5 -0.8l0.5 -1.0l0.5 -1.1l0.5 -1.1l0.5 -0.6l0.4 -0.4l0.5 -0.5l0.5 -0.9l0.5 -0.9l0.5 -0.8l0.5 -0.6l0.5 -0.4l0.5 -0.4l0.5 -0.5l0.5 -0.6l0.5 -0.6l0.5 -0.5l0.5 -0.2l0.5 -0.3l0.5 -0.5l0.5 -0.5l0.5 -0.5l0.5 -0.8l0.5 -0.8l0.5 -0.2l0.5 -0.0l0.5 -0.2l0.5 -0.3l0.5 -0.1l0.5 -0.4l0.5 -0.6l0.5 -0.3l0.5 -0.2l0.5 -0.1l0.5 -0.3l0.5 -0.3l0.5 -0.3l0.5 -0.2l0.5 -0.3l0.5 -0.2l0.4 0.1l0.5 0.0l0.5 0.0l0.5 0.1l0.5 0.2l0.5 0.0l0.5 -0.3l0.5 -0.4l0.5 -0.4l0.5 -0.5l0.5 -0.5l0.5 0.0l0.5 0.4l0.5 0.1l0.5 -0.1l0.5 -0.2l0.5 -0.2l0.5 -0.1l0.5 0.1l0.5 0.2l0.5 0.2l0.5 0.2l0.5 -0.3l0.5 -0.2l0.5 0.1l0.5 0.1l0.5 -0.0l0.5 -0.1l0.5 0.2l0.5 0.1l0.5 0.1l0.5 -0.2l0.5 -0.2l0.5 -0.2l0.5 0.1l0.4 0.3l0.5 0.2l0.5 -0.0l0.5 -0.1l0.5 0.4l0.5 0.4l0.5 0.2l0.5 0.1l0.5 -0.1l0.5 -0.1l0.5 0.1l0.5 0.3l0.5 0.4l0.5 0.4l0.5 0.2l0.5 0.2l0.5 0.3l0.5 0.4l0.5 0.3l0.5 0.3l0.5 0.6l0.5 0.5l0.5 0.3l0.5 0.1l0.5 0.1l0.5 0.2l0.5 0.4l0.5 0.4l0.5 0.6l0.5 0.6l0.5 0.5l0.5 0.1l0.5 0.3l0.5 0.7l0.4 1.0l0.5 0.9l0.5 0.9l0.5 0.9l0.5 0.9l0.5 0.6l0.5 0.4l0.5 0.6l0.5 0.9l0.5 0.9l0.5 1.1l0.5 1.3l0.5 0.8l0.5 0.6l0.5 0.8l0.5 1.2l0.5 1.2l0.5 1.1" stroke="#0000ff"/>
<path d="M48.0 67.7l0.5 -0.7l0.5 -0.5l0.5 -0.3l0.5 -0.3l0.5 -0.5l0.5 -0.7l0.5 -0.8l0.5 -0.8l0.5 -0.7l0.5 -0.5l0.5 -0.6l0.5 -0.6l0.5 -0.5l0.5 -0.5l0.5 -0.7l0.5 -0.8l0.5 -0.7l0.4 -0.4l0.5 -0.1l0.5 -0.2l0.5 -0.4l0.5 -0.5l0.5 -0.6l0.5 -0.7l0.5 -0.6l0.5 -0.4l0.5 -0.3l0.5 -0.4l0.5 -0.3l0.5 -0.2l0.5 -0.5l0.5 -0.4l0.5 -0.4l0.5 -0.5l0.5 -0.5l0.5 -0.3l0.5 0.1l0.5 0.2l0.5 -0.2l0.5 -0.5l0.5 -0.5l0.5 -0.4l0.5 -0.3l0.5 0.1l0.5 0.4l0.5 0.1l0.5 -0.3l0.5 -0.5l0.5 -0.2l0.5 0.1l0.5 0.0l0.4 -0.2l0.5 -0.4l0.5 -0.1l0.5 -0.2l0.5 -0.3l0.5 -0.2l0.5 0.2l0.5 0.2l0.5 -0.1l0.5 -0.2l0.5 -0.1l0.5 0.0l0.5 0.1l0.5 -0.1l0.5 -0.2l0.5 -0.2l0.5 -0.3l0.5 0.1l0.5 0.5l0.5 -0.0l0.5 -0.4l0.5 -0.1l0.5 0.4l0.5 0.7l0.5 0.4l0.5 -0.1l0.5 -0.0l0.5 0.0l0.5 -0.0l0.5 0.0l0.5 0.3l0.5 0.4l0.5 0.2l0.5 0.1l0.5 0.1l0.4 0.1l0.5 0.1l0.5 0.2l0.5 0.2l0.5 0.1l0.5 0.4l0.5 0.6l0.5 0.5l0.5 0.4l0.5 0.3l0.5 0.2l0.5 0.4l0.5 0.4l0.5 0.3l0.5 0.3l0.5 0.4l0.5 0.4l0.5 0.4l0.5 0.4l0.5 0.3l0.5 0.3l0.5 0.7l0.5 0.9l0.5 0.5l0.5 0.3l0.5 0.2l0.5 0.3l0.5 0.4l0.5 0.5l0.5 0.5l0.5 0.4l0.5 0.7l0.5 0.7l0.5 0.5l0.5 0.7l0.4 0.9l0.5 1.0l0.5 0.7l0.5 0.5l0.5 0.3l0.5 0.6l0.5 0.9l0.5 0.9l0.5 0.9l0.5 1.0l0.5 0.8l0.5 0.6l0.5 0.6l0.5 0.9l0.0 0.1l0.1 0.0l0.1 -0.0l0.2 0.1l0.1 0.3l0.0 -0.0l0.1 0.1l0.2 0.5l0.1 0.5l0.1 0.3l0.0 0.1l0.1 0.4l0.2 0.3l0.1 0.3l0.1 0.1l0.0 0.2l0.2 0.4l0.1 0.3l0.1 0.1l0.1 -0.2l0.1 -0.0l0.1 0.4l0.1 0.8l0.1 0.7l0.1 0.2l0.1 -0.1l0.1 0.3l0.1 0.5l0.2 0.6l-0.0 0.1l0.1 0.1l0.1 -0.2l0.2 0.1l0.1 0.4l-0.0 0.1l0.1 0.6l0.1 0.5l0.2 0.2l0.1 0.1l0.0 0.1l0.1 0.3l0.2 0.3l0.1 0.5l0.1 0.4l0.0 0.4l0.2 0.8l0.1 0.8l0.1 0.4l0.1 -0.0l0.0 0.0l0.2 0.5l0.1 0.2l0.1 0.3l0.1 0.1l0.1 0.2l0.1 0.3l0.1 0.5l0.2 0.7l-0.0 0.2l0.1 0.2l0.1 0.3l0.1 0.5l0.2 0.5l-0.0 0.1l0.1 0.6l0.1 0.4l0.2 0.2l0.1 0.1l-0.0 -0.1l0.1 0.3l0.1 0.5l0.2 0.4l0.1 0.3l0.0 0.3l0.1 0.8l0.2 0.7l0.1 0.4l0.1 0.0l0.0 0.1l0.2 0.5l0.1 0.6l0.1 0.6l0.1 0.3l0.0 0.4l0.2 0.5l0.1 0.3l0.1 0.3l0.1 0.1l0.1 0.4l0.1 0.6l0.1 0.4l0.2 0.0l-0.0 -0.4l0.1 0.1l0.1 0.6l0.1 0.6l0.2 0.2l-0.0 -0.2l0.1 0.3l0.1 0.7l0.2 0.7l0.0 0.2l0.1 -0.1l0.1 0.1l0.2 -0.2l0.1 -0.4l0.0 -0.2l0.1 0.4l0.1 0.5l0.2 0.1l0.1 -0.2l0.0 0.0l0.1 0.3l0.2 0.5l0.1 0.2l0.1 -0.2l0.0 -0.4l0.2 -0.1l0.1 -0.0l0.1 -0.1l0.1 -0.2l0.0 -0.2l0.2 -0.5l0.1 -0.3l0.1 -0.1l0.1 -0.1l0.1 0.1l0.1 -0.3l0.1 -0.7l0.2 -0.7l0.0 -0.3l0.1 -0.1l0.1 -0.2l0.1 -0.2l0.2 -0.0l0.0 -0.2l0.1 -0.4l0.1 -0.6l0.2 -0.5l0.1 -0.3l0.0 0.0l0.1 -0.1l0.1 -0.4l0.2 -0.6l0.1 -0.8l0.0 -0.1l0.1 -0.2l0.2 -0.4l0.1 -0.8l0.1 -1.0l0.0 -0.3l0.2 -0.5l0.1 -0.4l0.1 -0.0l0.1 0.1l0.0 -0.0l0.2 -0.8l0.1 -0.8l0.1 -0.4l0.1 -0.2l0.1 -0.2l0.1 -0.5l0.1 -0.5l0.2 -0.4l0.0 -0.0l0.1 -0.1l0.1 -0.5l0.1 -0.5l0.2 -0.7l0.0 -0.3l0.1 -0.6l0.1 -0.6l0.2 -0.7l0.1 -0.4l0.0 0.2l0.1 -0.3l0.2 -0.5l0.1 -0.5l0.1 -0.5l0.0 -0.1l0.1 -0.4l0.2 -0.5l0.1 -0.5l0.1 -0.1l0.0 0.2l0.2 -0.2l0.1 -0.2l0.1 -0.4l0.1 -0.3l0.1 -0.4l0.1 -0.8l0.1 -0.5l0.1 -0.2l0.1 0.1l0.1 -0.0l0.1 -0.5l0.1 -0.7l0.2 -0.8l-0.0 -0.2l0.1 -0.1l0.1 -0.0l0.3 -0.7l0.5 -1.9l0.5 -1.8l0.5 -1.5l0.5 -1.4l0.5 -1.4l0.5 -1.3l0.5 -1.0l0.5 -1.0l0.5 -1.0l0.5 -0.8l0.5 -0.8l0.5 -0.9l0.5 -1.0l0.4 -1.1l0.5 -0.9l0.5 -0.8l0.5 -1.0l0.5 -1.3l0.5 -1.3l0.5 -0.9l0.5 -0.7l0.5 -0.7l0.5 -1.0l0.5 -1.2l0.5 -1.1l0.5 -1.1l0.5 -1.2l0.5 -0.9l0.5 -0.5l0.5 -0.4l0.5 -0.5l0.5 -0.7l0.5 -0.6l0.5 -0.3l0.5 -0.2l0.5 -0.3l0.5 -0.7l0.5 -1.0l0.5 -0.7l0.5 -0.4l0.5 -0.1l0.5 -0.1l0.5 -0.3l0.5 -0.5l0.5 -0.5l0.5 -0.3l0.5 0.2l0.4 0.4l0.5 0.1l0.5 -0.1l0.5 0.0l0.5 -0.1l0.5 -0.3l0.5 -0.1l0.5 0.1l0.5 -0.0l0.5 -0.2l0.5 -0.3l0.5 -0.1l0.5 -0.3l0.5 -0.5l0.5 -0.3l0.5 0.1l0.5 0.3l0.5 -0.0l0.5 -0.3l0.5 -0.0l0.5 0.0l0.5 0.2l0.5 0.3l0.5 0.1l0.5 -0.2l0.5 -0.6l0.5 -0.3l0.5 0.1l0.5 0.4l0.5 0.1l0.5 -0.0l0.5 0.1l0.5 0.2l0.5 -0.1l0.5 -0.1l0.4 -0.2l0.5 -0.1l0.5 -0.1l0.5 0.2l0.5 0.3l0.5 0.5l0.5 0.1l0.5 -0.1l0.5 0.2l0.5 0.5l0.5 -0.1l0.5 -0.5l0.5 -0.5l0.5 0.3l0.5 0.5l0.5 0.7l0.5 0.4l0.5 -0.1l0.5 -0.3l0.5 0.0l0.5 0.2l0.5 -0.0l0.5 -0.1l0.5 0.2l0.5 0.4l0.5 0.4l0.5 0.2l0.5 0.1l0.5 0.1l0.5 0.3l0.5 0.2l0.5 0.1l0.5 0.1l0.5 0.4l0.5 0.5l0.4 0.1l0.5 0.1l0.5 0.4l0.5 0.5l0.5 0.4l0.5 0.3l0.5 -0.0l0.5 -0.1l0.5 0.2l0.5 0.3l0.5 0.5l0.5 0.6l0.5 0.6l0.5 0.4l0.5 0.4l0.5 0.8l0.5 1.1l0.5 1.1l0.5 0.7l0.5 0.6l0.5 0.7l0.5 0.7l0.5 0.5l0.5 0.5l0.5 0.5l0.5 0.4l0.5 0.5l0.5 1.0l0.5 1.2l0.5 0.8l0.5 0.4l0.5 0.7l0.5 0.9l0.5 1.0l0.4 1.0l0.5 1.1l0.5 1.0l0.5 1.2l0.1 0.3l0.1 0.0l0.2 -0.0l0.1 0.2l0.0 -0.1l0.1 -0.2l0.2 0.2l0.1 0.6l0.1 0.6l0.0 0.1l0.2 0.3l0.1 0.3l0.1 0.2l0.1 0.3l0.0 0.3l0.2 0.6l0.1 0.3l0.1 0.2l0.1 0.2l0.1 -0.0l0.1 -0.2l0.1 0.1l0.2 0.5l0.0 0.1l0.1 -0.0l0.1 0.2l0.1 0.5l0.2 0.5l0.0 0.2l0.1 0.4l0.1 0.6l0.2 0.4l0.1 0.1l0.0 -0.3l0.1 0.2l0.2 0.2l0.1 0.2l0.1 0.3l0.0 -0.1l0.1 0.4l0.2 0.5l0.1 0.5l0.1 0.4l0.0 0.3l0.2 0.7l0.1 0.3l0.1 0.2l0.1 0.3l0.1 0.1l0.1 0.1l0.1 0.3l0.1 0.6l0.1 0.5l0.1 0.3l0.1 0.2l0.1 0.1l0.2 0.4l0.0 0.2l0.1 0.3l0.1 0.5l0.2 0.5l0.1 0.6l0.0 0.2l0.1 0.2l0.1 0.2l0.2 -0.0l0.1 -0.1l0.1 0.4l0.2 0.8l0.1 1.0l0.1 0.8l0.0 0.3l0.1 0.7l0.2 0.5l0.1 0.2l0.1 -0.3l0.0 -0.3l0.2 0.3l0.1 0.5l0.1 0.7l0.1 0.5l0.1 0.2l0.1 0.2l0.1 0.4l0.1 0.6l0.1 0.3l0.1 0.1l0.1 0.1l0.1 0.5l0.2 0.7l-0.0 0.2l0.1 0.5l0.1 0.4l0.2 0.4l0.1 0.2l-0.0 -0.2l0.1 -0.1l0.1 -0.2l0.2 0.0l0.1 0.5l0.0 0.5l0.1 0.6l0.2 0.2l0.1 -0.3l0.1 -0.1l0.0 0.3l0.2 0.2l0.1 0.1l0.1 0.3l0.1 0.2l0.0 -0.1l0.2 -0.2l0.1 -0.1l0.1 -0.0l0.1 -0.2l0.1 -0.1l0.1 0.1l0.1 0.0l0.2 0.0l-0.0 0.2l0.1 -0.1l0.1 -0.3l0.1 -0.5l0.2 -0.4l-0.0 0.0l0.1 -0.3l0.1 -0.6l0.2 -0.5l0.1 -0.2l-0.0 0.0l0.1 -0.2l0.2 -0.1l0.1 -0.3l0.1 -0.3l0.0 -0.3l0.1 -0.5l0.2 -0.3l0.1 -0.2l0.1 -0.1l0.0 -0.3l0.2 -0.6l0.1 -0.6l0.1 -0.5l0.1 -0.1l0.0 -0.5l0.2 -0.7l0.1 -0.6l0.1 -0.4l0.1 0.3l0.1 -0.2l0.1 -0.7l0.1 -0.6l0.1 -0.2l0.1 0.4l0.1 -0.2l0.1 -0.6l0.1 -0.9l0.1 -0.7l0.1 -0.4l0.1 -0.6l0.1 -0.6l0.2 -0.5l0.0 -0.2l0.1 -0.0l0.1 -0.4l0.2 -0.7l0.1 -0.7l0.0 -0.2l0.1 -0.2l0.1 -0.3l0.2 -0.5l0.1 -0.6l0.0 0.1l0.1 -0.1l0.2 -0.3l0.1 -0.5l0.1 -0.7l0.0 -0.2l0.2 -0.3l0.1 -0.2l0.1 -0.2l0.1 -0.6l0.0 -0.3l0.2 -0.4l0.1 -0.2l0.1 -0.3l0.1 -0.3l0.1 -0.2l0.1 -0.6l0.1 -0.5l0.2 -0.3l0.0 -0.2l0.1 -0.2l0.1 -0.3l0.1 -0.3l0.2 -0.1l0.0 0.2l0.1 0.0l0.1 -0.3l0.2 -0.5l0.1 -0.7l0.5 -1.7l0.5 -1.6l0.5 -1.2l0.5 -1.3l0.5 -1.1l0.5 -1.0l0.5 -1.1l0.5 -1.3l0.5 -1.2l0.5 -0.9l0.5 -0.8l0.5 -0.8l0.5 -0.9l0.5 -1.1l0.5 -1.2l0.5 -0.8l0.5 -0.4l0.5 -0.6l0.5 -0.8l0.5 -0.8l0.5 -0.7l0.5 -0.8l0.5 -0.7l0.4 -0.7l0.5 -0.6l0.5 -0.4l0.5 -0.6l0.5 -0.8l0.5 -0.9l0.5 -0.8l0.5 -0.4l0.5 -0.5l0.5 -0.5l0.5 -0.6l0.5 -0.5l0.5 -0.5l0.5 -0.4l0.5 -0.3l0.5 -0.3l0.5 -0.1l0.5 -0.3l0.5 -0.6l0.5 -0.7l0.5 -0.5l0.5 -0.1l0.5 -0.2l0.5 -0.1l0.5 0.0l0.5 -0.4l0.5 -0.8l0.5 -0.7l0.5 -0.4l0.5 -0.1l0.5 0.0l0.5 0.1l0.5 0.0l0.5 -0.2l0.5 -0.1l0.4 -0.1l0.5 -0.5l0.5 -0.6l0.5 -0.3l0.5 0.2l0.5 0.4l0.5 0.1l0.5 -0.1l0.5 -0.1l0.5 0.2l0.5 0.3l0.5 -0.1l0.5 -0.4l0.5 -0.2l0.5 0.1l0.5 -0.1l0.5 -0.2l0.5 -0.1l0.5 0.1l0.5 -0.1l0.5 -0.2l0.5 -0.3l0.5 -0.2l0.5 -0.0l0.5 -0.1l0.5 -0.0l0.5 0.1l0.5 0.3l0.5 0.4l0.5 0.2l0.5 0.2l0.5 0.1l0.5 0.2l0.5 0.1l0.5 0.1l0.4 -0.0l0.5 -0.2l0.5 -0.2l0.5 -0.1l0.5 -0.2l0.5 0.0l0.5 0.5l0.5 0.7l0.5 0.6l0.5 0.2l0.5 0.3l0.5 0.3l0.5 0.3l0.5 -0.1l0.5 -0.4l0.5 -0.3l0.5 0.2l0.5 0.7l0.5 0.7l0.5 0.6l0.5 0.2l0.5 0.1l0.5 0.1l0.5 0.3l0.5 0.2l0.5 0.4l0.5 0.4l0.5 0.4l0.5 0.5l0.5 0.6l0.5 0.6l0.5 0.7l0.5 0.8l0.5 0.7l0.4 0.4l0.5 0.6l0.5 0.7l0.5 0.8l0.5 0.8l0.5 0.5l0.5 0.6l0.5 0.6l0.5 0.5l0.5 0.7l0.5 1.0l0.5 1.1l0.5 1.1l0.5 1.0l0.5 1.2l0.5 1.1l0.5 0.8l0.5 0.9" stroke="#008000"/>
<path d="M48.0 64.7l0.5 -0.6l0.5 -0.7l0.5 -0.9l0.5 -0.8l0.5 -0.6l0.5 -0.6l0.5 -0.5l0.5 -0.4l0.5 -0.3l0.5 -0.3l0.5 -0.5l0.5 -0.8l0.5 -0.7l0.5 -0.6l0.5 -0.5l0.5 -0.5l0.5 -0.4l0.4 -0.6l0.5 -0.6l0.5 -0.4l0.5 -0.1l0.5 -0.1l0.5 -0.5l0.5 -0.7l0.5 -0.6l0.5 -0.4l0.5 -0.4l0.5 -0.5l0.5 -0.3l0.5 0.1l0.5 0.1l0.5 -0.2l0.5 -0.6l0.5 -0.4l0.5 0.1l0.5 0.0l0.5 -0.2l0.5 -0.3l0.5 -0.4l0.5 -0.2l0.5 -0.3l0.5 -0.5l0.5 -0.4l0.5 0.2l0.5 0.3l0.5 0.0l0.5 -0.2l0.5 -0.2l0.5 -0.3l0.5 -0.5l0.5 -0.4l0.4 -0.1l0.5 0.1l0.5 -0.2l0.5 -0.2l0.5 0.1l0.5 0.1l0.5 -0.2l0.5 -0.4l0.5 -0.5l0.5 -0.4l0.5 0.0l0.5 0.4l0.5 0.3l0.5 0.3l0.5 0.3l0.5 -0.2l0.5 -0.6l0.5 -0.3l0.5 0.3l0.5 0.4l0.5 0.2l0.5 0.1l0.5 0.0l0.5 0.1l0.5 -0.0l0.5 0.0l0.5 0.2l0.5 0.3l0.5 0.2l0.5 -0.0l0.5 -0.0l0.5 0.0l0.5 0.1l0.5 0.3l0.5 0.4l0.4 0.4l0.5 0.4l0.5 0.1l0.5 -0.0l0.5 0.2l0.5 0.4l0.5 0.4l0.5 0.1l0.5 0.1l0.5 0.2l0.5 0.5l0.5 0.4l0.5 0.3l0.5 0.2l0.5 0.5l0.5 0.8l0.5 0.8l0.5 0.3l0.5 0.1l0.5 0.1l0.5 0.4l0.5 0.4l0.5 0.4l0.5 0.5l0.5 0.4l0.5 0.4l0.5 0.3l0.5 0.4l0.5 0.6l0.5 0.9l0.5 0.9l0.5 0.7l0.5 0.3l0.5 0.1l0.5 0.2l0.4 0.8l0.5 1.2l0.5 0.8l0.5 0.4l0.5 0.5l0.5 0.7l0.5 0.8l0.5 0.9l0.5 0.9l0.5 0.8l0.5 1.0l0.5 1.2l0.5 1.0l0.5 0.7l0.0 0.0l0.1 0.6l0.1 0.5l0.2 0.2l0.1 -0.1l0.0 -0.3l0.1 0.0l0.2 0.2l0.1 0.4l0.1 0.3l0.0 0.0l0.1 0.3l0.2 0.4l0.1 0.3l0.1 0.2l0.0 0.1l0.2 0.3l0.1 0.5l0.1 0.4l0.1 -0.2l0.1 -0.1l0.1 0.5l0.1 0.7l0.1 0.5l0.1 0.2l0.1 0.2l0.1 0.3l0.1 0.3l0.2 0.3l-0.0 0.1l0.1 0.4l0.1 0.5l0.2 0.6l0.1 0.3l-0.0 -0.2l0.1 0.1l0.1 0.2l0.2 0.2l0.1 0.1l0.0 -0.2l0.1 0.3l0.2 0.3l0.1 0.4l0.1 0.4l0.0 0.2l0.2 0.4l0.1 0.1l0.1 0.1l0.1 0.2l0.0 0.1l0.2 0.3l0.1 0.4l0.1 0.7l0.1 0.6l0.1 0.2l0.1 0.0l0.1 0.1l0.2 0.2l-0.0 0.4l0.1 0.7l0.1 0.4l0.1 -0.2l0.2 -0.0l-0.0 0.0l0.1 0.5l0.1 0.1l0.2 0.1l0.1 0.1l-0.0 0.2l0.1 0.7l0.1 0.6l0.2 0.0l0.1 0.1l0.0 0.2l0.1 0.6l0.2 0.5l0.1 0.5l0.1 0.2l0.0 0.0l0.2 -0.2l0.1 -0.1l0.1 0.2l0.1 0.5l0.0 0.5l0.2 0.3l0.1 -0.2l0.1 -0.5l0.1 -0.2l0.1 0.4l0.1 0.4l0.1 0.1l0.2 0.2l-0.0 -0.0l0.1 0.1l0.1 0.1l0.1 0.1l0.2 0.2l-0.0 0.1l0.1 -0.1l0.1 0.1l0.2 0.1l0.0 0.1l0.1 -0.1l0.1 -0.1l0.2 -0.2l0.1 -0.2l0.0 -0.1l0.1 0.2l0.1 0.0l0.2 -0.3l0.1 -0.4l0.0 -0.2l0.1 0.1l0.2 0.1l0.1 0.3l0.1 0.2l0.0 -0.0l0.2 -0.3l0.1 -0.4l0.1 -0.3l0.1 -0.4l0.0 -0.4l0.2 -0.4l0.1 -0.2l0.1 0.0l0.1 0.3l0.1 -0.0l0.1 -0.5l0.1 -0.5l0.2 -0.1l0.0 0.2l0.1 0.1l0.1 -0.2l0.1 -0.4l0.2 -0.4l0.0 -0.5l0.1 -0.4l0.1 -0.2l0.2 -0.0l0.1 -0.3l0.0 -0.2l0.1 -0.5l0.1 -0.5l0.2 -0.1l0.1 0.1l0.0 -0.1l0.1 -0.5l0.2 -0.3l0.1 0.0l0.1 -0.1l0.0 -0.3l0.2 -0.7l0.1 -0.6l0.1 -0.4l0.1 -0.4l0.0 0.0l0.2 -0.1l0.1 -0.4l0.1 -0.6l0.1 -0.2l0.1 -0.2l0.1 -0.2l0.1 -0.2l0.2 -0.1l0.0 -0.1l0.1 -0.3l0.1 -0.4l0.1 -0.1l0.2 -0.4l0.0 -0.5l0.1 -0.5l0.1 -0.3l0.2 -0.1l0.1 -0.0l0.0 -0.1l0.1 -0.6l0.2 -0.4l0.1 0.0l0.1 -0.2l0.0 -0.3l0.1 -0.9l0.2 -0.6l0.1 -0.3l0.1 -0.3l0.0 -0.1l0.2 -0.3l0.1 -0.3l0.1 -0.2l0.1 0.1l0.1 -0.1l0.1 -0.6l0.1 -0.2l0.1 -0.3l0.1 -0.3l0.1 -0.5l0.1 -0.3l0.1 -0.2l0.2 -0.2l-0.0 -0.2l0.1 -0.5l0.1 -0.5l0.3 -0.5l0.5 -0.9l0.5 -1.0l0.5 -1.1l0.5 -1.0l0.5 -1.0l0.5 -1.1l0.5 -1.0l0.5 -0.9l0.5 -0.9l0.5 -0.9l0.5 -0.9l0.5 -1.0l0.5 -1.2l0.4 -1.1l0.5 -1.1l0.5 -1.0l0.5 -1.0l0.5 -0.9l0.5 -0.8l0.5 -0.7l0.5 -0.6l0.5 -0.9l0.5 -1.1l0.5 -1.2l0.5 -0.7l0.5 -0.3l0.5 -0.2l0.5 -0.6l0.5 -0.7l0.5 -0.9l0.5 -0.8l0.5 -0.9l0.5 -0.9l0.5 -0.7l0.5 -0.5l0.5 -0.5l0.5 -0.5l0.5 -0.7l0.5 -0.6l0.5 -0.5l0.5 0.0l0.5 0.3l0.5 -0.0l0.5 -0.5l0.5 -0.4l0.5 -0.2l0.5 -0.1l0.4 0.1l0.5 0.1l0.5 0.3l0.5 0.3l0.5 0.1l0.5 -0.2l0.5 -0.3l0.5 -0.2l0.5 0.1l0.5 0.1l0.5 -0.2l0.5 -0.2l0.5 0.0l0.5 0.0l0.5 -0.1l0.5 -0.3l0.5 -0.6l0.5 -0.4l0.5 0.1l0.5 -0.1l0.5 -0.4l0.5 -0.1l0.5 0.1l0.5 0.1l0.5 0.1l0.5 0.1l0.5 -0.0l0.5 0.0l0.5 0.1l0.5 0.1l0.5 0.1l0.5 -0.0l0.5 -0.3l0.5 -0.1l0.5 0.2l0.4 0.3l0.5 0.2l0.5 0.3l0.5 0.1l0.5 -0.3l0.5 -0.3l0.5 -0.1l0.5 -0.1l0.5 0.0l0.5 0.2l0.5 0.3l0.5 0.2l0.5 0.1l0.5 0.1l0.5 0.1l0.5 0.4l0.5 0.4l0.5 0.1l0.5 -0.0l0.5 0.1l0.5 0.3l0.5 0.4l0.5 -0.0l0.5 -0.3l0.5 -0.2l0.5 0.1l0.5 0.1l0.5 0.1l0.5 0.3l0.5 0.4l0.5 0.2l0.5 0.3l0.5 0.2l0.5 0.2l0.5 0.3l0.4 0.3l0.5 0.3l0.5 0.1l0.5 0.3l0.5 0.6l0.5 0.6l0.5 0.2l0.5 0.1l0.5 0.3l0.5 0.4l0.5 0.5l0.5 0.6l0.5 0.6l0.5 0.6l0.5 0.5l0.5 0.6l0.5 0.5l0.5 0.4l0.5 0.3l0.5 0.4l0.5 0.7l0.5 1.2l0.5 1.2l0.5 1.0l0.5 0.5l0.5 0.4l0.5 0.4l0.5 0.8l0.5 1.0l0.5 1.1l0.5 0.8l0.5 0.5l0.5 0.5l0.5 0.9l0.4 1.0l0.5 1.1l0.5 1.2l0.5 1.0l0.1 0.1l0.1 0.0l0.2 0.3l0.1 0.7l0.0 0.5l0.1 0.1l0.2 -0.1l0.1 0.1l0.1 0.5l0.0 0.2l0.2 0.4l0.1 0.2l0.1 0.0l0.1 -0.0l0.0 -0.1l0.2 0.2l0.1 0.1l0.1 0.3l0.1 0.6l0.1 0.5l0.1 0.6l0.1 0.5l0.2 0.3l0.0 -0.0l0.1 -0.2l0.1 0.1l0.1 0.3l0.2 0.4l0.0 0.3l0.1 0.2l0.1 0.1l0.2 -0.0l0.1 -0.0l0.0 -0.1l0.1 0.3l0.2 0.7l0.1 0.8l0.1 0.6l0.0 0.2l0.1 0.3l0.2 0.5l0.1 0.5l0.1 0.3l0.0 -0.4l0.2 -0.1l0.1 0.5l0.1 0.7l0.1 0.5l0.1 0.2l0.1 0.5l0.1 0.0l0.1 -0.0l0.1 -0.1l0.1 0.2l0.1 0.5l0.1 0.4l0.2 0.1l0.0 0.1l0.1 0.2l0.1 0.4l0.2 0.6l0.1 0.6l0.0 -0.0l0.1 -0.2l0.1 0.1l0.2 0.4l0.1 0.6l0.1 0.6l0.2 0.4l0.1 0.3l0.1 0.2l0.0 -0.0l0.1 0.1l0.2 -0.0l0.1 0.1l0.1 0.3l0.0 0.4l0.2 0.3l0.1 0.3l0.1 0.5l0.1 0.4l0.1 0.1l0.1 0.0l0.1 0.3l0.1 0.2l0.1 -0.1l0.1 -0.2l0.1 -0.0l0.1 0.1l0.2 0.2l-0.0 0.2l0.1 0.6l0.1 0.4l0.2 -0.0l0.1 -0.3l-0.0 -0.3l0.1 -0.0l0.1 0.2l0.2 0.4l0.1 0.2l0.0 -0.3l0.1 -0.2l0.2 0.2l0.1 0.2l0.1 -0.2l0.0 -0.2l0.2 0.1l0.1 0.3l0.1 -0.1l0.1 -0.3l0.0 -0.5l0.2 -0.6l0.1 -0.4l0.1 -0.1l0.1 0.4l0.1 0.3l0.1 -0.1l0.1 -0.4l0.2 -0.5l-0.0 0.0l0.1 0.0l0.1 -0.1l0.1 -0.1l0.2 -0.1l-0.0 -0.1l0.1 -0.3l0.1 -0.5l0.2 -0.3l0.1 -0.3l-0.0 -0.1l0.1 -0.5l0.2 -0.4l0.1 -0.2l0.1 -0.0l0.0 -0.1l0.1 -0.1l0.2 -0.0l0.1 -0.2l0.1 -0.1l0.0 -0.2l0.2 -0.6l0.1 -0.6l0.1 -0.3l0.1 -0.2l0.0 -0.5l0.2 -0.6l0.1 -0.5l0.1 -0.3l0.1 0.1l0.1 0.1l0.1 -0.0l0.1 -0.3l0.1 -0.5l0.1 -0.3l0.1 -0.6l0.1 -0.3l0.1 -0.3l0.1 -0.1l0.1 0.0l0.1 -0.2l0.1 -0.2l0.2 -0.5l0.0 -0.5l0.1 -0.2l0.1 -0.2l0.2 -0.1l0.1 -0.2l0.0 -0.3l0.1 -0.5l0.1 -0.5l0.2 -0.6l0.1 -0.5l0.0 0.0l0.1 -0.1l0.2 -0.3l0.1 -0.6l0.1 -0.5l0.0 -0.0l0.2 -0.3l0.1 -0.3l0.1 -0.5l0.1 -0.5l0.0 0.1l0.2 -0.2l0.1 -0.4l0.1 -0.4l0.1 -0.1l0.1 0.1l0.1 -0.3l0.1 -0.8l0.2 -0.7l0.0 0.0l0.1 -0.0l0.1 -0.8l0.1 -0.6l0.2 0.0l0.0 0.4l0.1 0.0l0.1 -0.5l0.2 -0.6l0.1 -0.5l0.5 -0.9l0.5 -0.8l0.5 -1.2l0.5 -1.5l0.5 -1.2l0.5 -0.8l0.5 -0.7l0.5 -1.0l0.5 -1.0l0.5 -1.0l0.5 -1.1l0.5 -1.2l0.5 -1.0l0.5 -0.9l0.5 -0.9l0.5 -0.9l0.5 -0.7l0.5 -0.4l0.5 -0.6l0.5 -0.7l0.5 -0.5l0.5 -0.5l0.5 -0.4l0.4 -0.4l0.5 -0.3l0.5 -0.5l0.5 -1.2l0.5 -1.3l0.5 -0.7l0.5 -0.3l0.5 -0.2l0.5 -0.4l0.5 -0.5l0.5 -0.5l0.5 -0.4l0.5 -0.4l0.5 -0.4l0.5 -0.6l0.5 -0.6l0.5 -0.5l0.5 -0.3l0.5 -0.1l0.5 0.1l0.5 0.2l0.5 -0.2l0.5 -0.5l0.5 -0.5l0.5 -0.3l0.5 -0.2l0.5 -0.2l0.5 -0.2l0.5 -0.2l0.5 -0.3l0.5 -0.3l0.5 -0.2l0.5 -0.2l0.5 -0.3l0.5 -0.1l0.4 0.0l0.5 0.1l0.5 -0.1l0.5 -0.2l0.5 -0.3l0.5 -0.7l0.5 -0.5l0.5 -0.0l0.5 0.2l0.5 -0.0l0.5 -0.2l0.5 -0.2l0.5 0.1l0.5 0.1l0.5 0.0l0.5 0.2l0.5 0.4l0.5 0.3l0.5 0.1l0.5 -0.4l0.5 -0.7l0.5 -0.1l0.5 0.3l0.5 0.2l0.5 -0.2l0.5 -0.1l0.5 -0.3l0.5 -0.3l0.5 -0.0l0.5 0.3l0.5 0.6l0.5 0.6l0.5 0.3l0.5 -0.0l0.5 -0.2l0.4 -0.0l0.5 -0.1l0.5 0.1l0.5 -0.0l0.5 0.0l0.5 0.1l0.5 0.1l0.5 0.0l0.5 0.3l0.5 0.2l0.5 0.2l0.5 0.1l0.5 0.1l0.5 0.1l0.5 0.4l0.5 0.4l0.5 0.3l0.5 0.2l0.5 0.2l0.5 0.1l0.5 0.3l0.5 0.3l0.5 0.3l0.5 0.6l0.5 0.6l0.5 0.3l0.5 0.1l0.5 0.1l0.5 0.3l0.5 0.5l0.5 0.4l0.5 0.5l0.5 0.7l0.5 0.9l0.4 0.9l0.5 0.6l0.5 0.4l0.5 0.5l0.5 0.8l0.5 1.0l0.5 0.8l0.5 0.8l0.5 1.0l0.5 1.1l0.5 1.1l0.5 1.0l0.5 1.0l0.5 1.1l0.5 1.1l0.5 1.2l0.5 1.1l0.5 1.2" stroke="#ff00ff"/>
<path d="M48.0 61.2l0.5 -0.7l0.5 -0.6l0.5 -0.3l0.5 -0.2l0.5 -0.4l0.5 -0.8l0.5 -0.9l0.5 -0.4l0.5 -0.4l0.5 -0.6l0.5 -0.5l0.5 -0.6l0.5 -0.8l0.5 -0.6l0.5 -0.4l0.5 -0.5l0.5 -0.4l0.4 -0.3l0.5 -0.2l0.5 -0.1l0.5 -0.2l0.5 -0.4l0.5 -0.5l0.5 -0.3l0.5 -0.2l0.5 -0.2l0.5 -0.2l0.5 -0.2l0.5 -0.5l0.5 -0.5l0.5 -0.6l0.5 -0.6l0.5 -0.4l0.5 -0.1l0.5 0.0l0.5 0.1l0.5 -0.2l0.5 -0.3l0.5 -0.3l0.5 -0.3l0.5 -0.1l0.5 -0.1l0.5 -0.2l0.5 -0.3l0.5 -0.2l0.5 -0.3l0.5 -0.2l0.5 0.1l0.5 0.4l0.5 0.3l0.5 0.1l0.4 -0.2l0.5 -0.3l0.5 -0.2l0.5 -0.3l0.5 -0.3l0.5 -0.4l0.5 -0.5l0.5 -0.1l0.5 -0.1l0.5 -0.1l0.5 0.1l0.5 0.1l0.5 0.2l0.5 0.0l0.5 -0.0l0.5 -0.0l0.5 0.0l0.5 -0.1l0.5 -0.1l0.5 0.1l0.5 0.3l0.5 0.1l0.5 0.0l0.5 0.3l0.5 0.5l0.5 0.3l0.5 -0.2l0.5 -0.3l0.5 0.1l0.5 0.2l0.5 0.2l0.5 0.2l0.5 0.1l0.5 0.1l0.5 0.1l0.4 0.3l0.5 0.3l0.5 0.4l0.5 0.4l0.5 0.4l0.5 0.2l0.5 0.1l0.5 -0.0l0.5 0.2l0.5 0.5l0.5 0.4l0.5 0.2l0.5 0.2l0.5 0.3l0.5 0.4l0.5 0.3l0.5 0.4l0.5 0.6l0.5 0.7l0.5 0.6l0.5 0.4l0.5 0.2l0.5 0.2l0.5 0.4l0.5 0.4l0.5 0.6l0.5 0.6l0.5 0.8l0.5 0.5l0.5 0.3l0.5 0.4l0.5 0.8l0.5 0.8l0.5 0.7l0.5 0.4l0.4 0.4l0.5 0.4l0.5 0.5l0.5 0.8l0.5 1.1l0.5 0.9l0.5 0.6l0.5 0.5l0.5 0.5l0.5 0.9l0.5 1.1l0.5 1.4l0.5 1.6l0.5 1.3l0.0 -0.1l0.1 -0.1l0.1 0.2l0.2 0.4l0.1 0.5l0.0 0.2l0.1 0.3l0.2 0.2l0.1 0.2l0.1 0.3l0.0 0.2l0.1 0.3l0.2 -0.1l0.1 0.2l0.1 0.4l0.0 0.1l0.2 0.3l0.1 0.5l0.1 0.6l0.1 0.5l0.1 0.5l0.1 0.5l0.1 0.2l0.1 0.0l0.1 -0.2l0.1 -0.2l0.1 0.2l0.1 0.1l0.2 -0.1l-0.0 -0.1l0.1 0.4l0.1 0.6l0.2 0.7l0.1 0.5l-0.0 0.1l0.1 0.1l0.1 -0.2l0.2 -0.2l0.1 0.2l0.0 0.6l0.1 0.8l0.2 0.4l0.1 0.1l0.1 0.0l0.0 0.2l0.2 0.6l0.1 0.4l0.1 0.1l0.1 -0.0l0.0 0.0l0.2 0.3l0.1 0.1l0.1 -0.1l0.1 -0.0l0.1 0.6l0.1 0.9l0.1 0.8l0.2 0.4l-0.0 0.1l0.1 0.1l0.1 -0.2l0.1 -0.2l0.2 0.2l-0.0 0.0l0.1 0.3l0.1 0.3l0.2 0.3l0.1 0.3l-0.0 0.3l0.1 0.4l0.1 0.2l0.2 0.1l0.1 0.4l0.0 0.4l0.1 0.2l0.2 -0.3l0.1 -0.2l0.1 0.3l0.0 0.5l0.2 0.1l0.1 -0.2l0.1 0.2l0.1 0.3l0.0 -0.2l0.2 -0.3l0.1 0.0l0.1 0.4l0.1 0.2l0.1 0.1l0.1 0.0l0.1 -0.1l0.2 -0.1l-0.0 0.1l0.1 0.2l0.1 0.1l0.1 -0.1l0.2 0.1l-0.0 0.2l0.1 -0.1l0.1 -0.4l0.2 -0.5l0.0 -0.5l0.1 -0.1l0.1 0.1l0.2 0.2l0.1 -0.0l0.0 -0.1l0.1 -0.2l0.1 -0.2l0.2 -0.2l0.1 -0.1l0.0 -0.0l0.1 -0.2l0.2 -0.3l0.1 -0.4l0.1 -0.1l0.0 0.3l0.2 -0.0l0.1 -0.3l0.1 -0.2l0.1 -0.2l0.0 0.1l0.2 -0.3l0.1 -0.4l0.1 -0.6l0.1 -0.7l0.1 -0.0l0.1 0.2l0.1 0.1l0.2 -0.2l0.0 -0.5l0.1 -0.3l0.1 -0.1l0.1 -0.2l0.2 -0.4l0.0 -0.4l0.1 -0.4l0.1 -0.6l0.2 -0.5l0.1 -0.4l0.0 -0.1l0.1 -0.1l0.1 -0.1l0.2 -0.1l0.1 -0.3l0.0 -0.0l0.1 -0.1l0.2 -0.1l0.1 -0.2l0.1 -0.2l0.0 -0.2l0.2 -0.7l0.1 -0.6l0.1 -0.4l0.1 0.1l0.0 -0.0l0.2 -0.4l0.1 -0.4l0.1 -0.5l0.1 -0.3l0.1 -0.3l0.1 -0.6l0.1 -0.5l0.2 -0.2l0.0 0.2l0.1 -0.1l0.1 -0.4l0.1 -0.2l0.2 -0.2l0.0 -0.0l0.1 -0.1l0.1 -0.2l0.2 -0.2l0.1 -0.4l0.0 -0.3l0.1 -0.8l0.2 -0.8l0.1 -0.6l0.1 -0.2l0.0 0.5l0.1 -0.1l0.2 -0.3l0.1 -0.5l0.1 -0.4l0.0 -0.1l0.2 -0.3l0.1 -0.4l0.1 -0.5l0.1 -0.0l0.1 0.1l0.1 -0.2l0.1 -0.3l0.1 -0.2l0.1 -0.1l0.1 -0.1l0.1 -0.1l0.1 -0.3l0.2 -0.4l-0.0 -0.1l0.1 -0.1l0.1 -0.2l0.3 -0.8l0.5 -1.4l0.5 -1.3l0.5 -1.2l0.5 -0.9l0.5 -0.8l0.5 -0.6l0.5 -0.6l0.5 -0.9l0.5 -1.2l0.5 -1.3l0.5 -1.2l0.5 -1.0l0.5 -0.8l0.4 -0.8l0.5 -0.7l0.5 -0.8l0.5 -0.8l0.5 -0.7l0.5 -0.6l0.5 -0.6l0.5 -0.8l0.5 -1.2l0.5 -1.1l0.5 -0.7l0.5 -0.3l0.5 -0.3l0.5 -0.6l0.5 -0.8l0.5 -0.8l0.5 -0.7l0.5 -0.7l0.5 -0.8l0.5 -0.6l0.5 -0.3l0.5 -0.1l0.5 -0.0l0.5 -0.2l0.5 -0.4l0.5 -0.8l0.5 -0.8l0.5 -0.5l0.5 0.0l0.5 -0.0l0.5 -0.3l0.5 -0.1l0.5 -0.0l0.5 -0.0l0.4 -0.2l0.5 -0.2l0.5 -0.2l0.5 -0.2l0.5 0.1l0.5 0.1l0.5 -0.1l0.5 -0.0l0.5 0.1l0.5 0.3l0.5 -0.1l0.5 -0.4l0.5 -0.4l0.5 -0.2l0.5 0.1l0.5 -0.1l0.5 -0.4l0.5 -0.1l0.5 0.3l0.5 0.3l0.5 -0.1l0.5 -0.5l0.5 -0.4l0.5 0.0l0.5 0.3l0.5 0.1l0.5 -0.0l0.5 -0.1l0.5 -0.2l0.5 -0.2l0.5 -0.1l0.5 0.0l0.5 0.2l0.5 0.0l0.5 0.2l0.4 0.2l0.5 0.1l0.5 -0.1l0.5 -0.1l0.5 0.1l0.5 0.3l0.5 0.4l0.5 0.2l0.5 -0.0l0.5 -0.1l0.5 0.1l0.5 0.1l0.5 0.0l0.5 -0.1l0.5 0.1l0.5 0.3l0.5 0.1l0.5 -0.2l0.5 -0.4l0.5 0.3l0.5 0.5l0.5 0.4l0.5 0.2l0.5 0.1l0.5 0.2l0.5 0.3l0.5 0.2l0.5 0.3l0.5 0.3l0.5 0.3l0.5 0.1l0.5 0.1l0.5 0.4l0.5 0.4l0.5 0.2l0.4 0.1l0.5 0.4l0.5 0.1l0.5 -0.0l0.5 0.1l0.5 0.3l0.5 0.3l0.5 0.2l0.5 0.4l0.5 0.7l0.5 0.7l0.5 0.5l0.5 0.3l0.5 0.3l0.5 0.5l0.5 0.6l0.5 0.6l0.5 0.6l0.5 0.4l0.5 0.4l0.5 0.5l0.5 0.6l0.5 0.7l0.5 0.5l0.5 0.9l0.5 1.2l0.5 0.8l0.5 0.4l0.5 0.7l0.5 1.1l0.5 1.3l0.5 1.2l0.5 0.8l0.5 0.7l0.4 1.0l0.5 1.2l0.5 1.2l0.5 1.2l0.1 0.4l0.1 0.6l0.2 0.0l0.1 -0.2l0.0 0.1l0.1 0.7l0.2 0.4l0.1 0.2l0.1 0.2l0.0 0.0l0.2 0.2l0.1 0.3l0.1 0.4l0.1 0.2l0.0 -0.1l0.2 0.0l0.1 0.1l0.1 0.0l0.1 0.2l0.1 0.3l0.1 0.6l0.1 0.4l0.2 0.2l0.0 0.5l0.1 0.3l0.1 0.1l0.1 -0.2l0.2 -0.0l0.0 0.2l0.1 0.5l0.1 0.6l0.2 0.7l0.1 0.7l0.0 0.1l0.1 0.0l0.2 0.1l0.1 -0.1l0.1 0.0l0.0 0.1l0.1 0.7l0.2 0.4l0.1 0.2l0.1 0.1l0.0 -0.1l0.2 0.4l0.1 0.4l0.1 0.3l0.1 0.1l0.1 0.2l0.1 0.5l0.1 0.3l0.1 0.1l0.1 -0.2l0.1 0.3l0.1 0.7l0.1 0.6l0.2 -0.0l0.0 -0.3l0.1 -0.1l0.1 0.1l0.2 0.5l0.1 0.8l0.0 0.1l0.1 0.3l0.1 0.5l0.2 0.4l0.1 0.1l0.1 -0.1l0.2 -0.0l0.1 0.2l0.1 0.1l0.0 -0.4l0.1 -0.0l0.2 0.3l0.1 0.5l0.1 0.4l0.0 0.4l0.2 0.6l0.1 0.4l0.1 0.1l0.1 -0.0l0.1 -0.1l0.1 0.1l0.1 0.0l0.1 0.2l0.1 0.2l0.1 -0.0l0.1 -0.3l0.1 -0.4l0.2 0.0l-0.0 0.2l0.1 0.3l0.1 0.4l0.2 0.1l0.1 -0.3l-0.0 -0.3l0.1 -0.2l0.1 0.0l0.2 -0.1l0.1 -0.2l0.0 -0.1l0.1 0.0l0.2 0.3l0.1 0.1l0.1 -0.1l0.0 -0.2l0.2 -0.4l0.1 -0.3l0.1 -0.2l0.1 0.1l0.0 0.2l0.2 -0.1l0.1 -0.4l0.1 -0.4l0.1 -0.1l0.1 -0.2l0.1 -0.3l0.1 -0.2l0.2 -0.1l-0.0 -0.0l0.1 -0.5l0.1 -0.2l0.1 -0.2l0.2 -0.2l-0.0 -0.1l0.1 -0.5l0.1 -0.4l0.2 -0.2l0.1 -0.1l-0.0 0.1l0.1 -0.2l0.2 -0.5l0.1 -0.6l0.1 -0.4l0.0 -0.1l0.1 -0.2l0.2 -0.3l0.1 -0.4l0.1 -0.1l0.0 -0.1l0.2 -0.3l0.1 -0.1l0.1 -0.3l0.1 -0.5l0.0 -0.9l0.2 -0.4l0.1 0.1l0.1 -0.3l0.1 -0.1l0.1 -0.2l0.1 -0.1l0.1 -0.2l0.1 -0.4l0.1 -0.2l0.1 -0.3l0.1 -0.2l0.1 -0.0l0.1 -0.1l0.1 -0.0l0.1 -0.6l0.1 -0.5l0.2 -0.6l0.0 -0.2l0.1 0.2l0.1 -0.1l0.2 -0.5l0.1 -0.5l0.0 -0.1l0.1 -0.2l0.1 -0.3l0.2 -0.5l0.1 -0.7l0.0 -0.3l0.1 -0.2l0.2 -0.2l0.1 -0.5l0.1 -0.5l0.0 0.0l0.2 -0.1l0.1 -0.2l0.1 -0.5l0.1 -0.5l0.0 -0.1l0.2 -0.2l0.1 -0.1l0.1 -0.2l0.1 -0.3l0.1 -0.3l0.1 -0.5l0.1 -0.2l0.2 0.1l0.0 0.1l0.1 -0.1l0.1 -0.4l0.1 -0.4l0.2 -0.4l0.0 -0.1l0.1 -0.0l0.1 -0.3l0.2 -0.4l0.1 -0.2l0.5 -0.9l0.5 -0.9l0.5 -1.1l0.5 -1.2l0.5 -1.2l0.5 -1.0l0.5 -0.9l0.5 -1.0l0.5 -0.8l0.5 -0.8l0.5 -1.0l0.5 -1.0l0.5 -0.5l0.5 -0.5l0.5 -0.7l0.5 -0.8l0.5 -0.8l0.5 -0.6l0.5 -0.5l0.5 -0.6l0.5 -0.6l0.5 -0.6l0.5 -0.6l0.4 -0.8l0.5 -0.7l0.5 -0.6l0.5 -0.5l0.5 -0.6l0.5 -0.3l0.5 -0.3l0.5 -0.2l0.5 -0.2l0.5 -0.3l0.5 -0.4l0.5 -0.6l0.5 -0.7l0.5 -0.7l0.5 -0.7l0.5 -0.4l0.5 -0.4l0.5 -0.2l0.5 -0.2l0.5 -0.4l0.5 -0.3l0.5 -0.1l0.5 0.3l0.5 0.1l0.5 -0.2l0.5 -0.5l0.5 -0.6l0.5 -0.3l0.5 -0.0l0.5 0.1l0.5 -0.0l0.5 -0.0l0.5 0.2l0.5 0.2l0.5 -0.3l0.4 -0.8l0.5 -0.7l0.5 -0.3l0.5 -0.1l0.5 -0.0l0.5 0.2l0.5 0.1l0.5 -0.1l0.5 -0.0l0.5 0.1l0.5 -0.2l0.5 -0.3l0.5 -0.2l0.5 -0.1l0.5 -0.0l0.5 0.1l0.5 0.2l0.5 0.2l0.5 0.1l0.5 0.1l0.5 0.0l0.5 -0.2l0.5 -0.3l0.5 -0.2l0.5 0.0l0.5 -0.1l0.5 -0.2l0.5 0.2l0.5 0.3l0.5 0.2l0.5 0.1l0.5 0.2l0.5 0.1l0.5 0.2l0.5 0.1l0.4 -0.1l0.5 -0.2l0.5 -0.3l0.5 -0.1l0.5 -0.2l0.5 0.0l0.5 0.2l0.5 0.3l0.5 0.3l0.5 0.1l0.5 0.2l0.5 0.4l0.5 0.4l0.5 0.2l0.5 -0.0l0.5 -0.1l0.5 0.1l0.5 0.3l0.5 0.4l0.5 0.5l0.5 0.4l0.5 0.1l0.5 0.1l0.5 0.2l0.5 0.4l0.5 0.3l0.5 0.4l0.5 0.5l0.5 0.6l0.5 0.9l0.5 0.8l0.5 0.5l0.5 0.4l0.5 0.3l0.4 0.3l0.5 0.6l0.5 0.9l0.5 0.9l0.5 0.7l0.5 0.7l0.5 0.8l0.5 0.9l0.5 1.1l0.5 1.1l0.5 1.1l0.5 1.1l0.5 0.9l0.5 0.9l0.5 1.2l0.5 1.4l0.5 1.0l0.5 0.7" stroke="#808000"/>
<path d="M48.0 60.9l0.5 -0.3l0.5 -0.6l0.5 -0.7l0.5 -0.6l0.5 -0.5l0.5 -0.8l0.5 -0.7l0.5 -0.6l0.5 -0.4l0.5 -0.3l0.5 -0.5l0.5 -0.7l0.5 -0.7l0.5 -0.5l0.5 -0.5l0.5 -0.3l0.5 -0.3l0.4 -0.1l0.5 -0.4l0.5 -0.3l0.5 -0.2l0.5 -0.2l0.5 -0.4l0.5 -0.2l0.5 -0.2l0.5 -0.5l0.5 -0.7l0.5 -0.6l0.5 -0.2l0.5 -0.1l0.5 -0.1l0.5 -0.2l0.5 -0.2l0.5 -0.3l0.5 -0.4l0.5 -0.3l0.5 -0.1l0.5 -0.3l0.5 -0.2l0.5 -0.3l0.5 -0.3l0.5 -0.0l0.5 -0.0l0.5 -0.2l0.5 -0.2l0.5 0.0l0.5 0.1l0.5 -0.3l0.5 -0.4l0.5 -0.2l0.5 -0.2l0.4 -0.4l0.5 -0.3l0.5 -0.1l0.5 0.1l0.5 -0.0l0.5 -0.2l0.5 0.1l0.5 0.4l0.5 0.3l0.5 0.0l0.5 -0.3l0.5 -0.3l0.5 -0.2l0.5 -0.2l0.5 0.1l0.5 0.1l0.5 0.1l0.5 -0.0l0.5 -0.1l0.5 0.0l0.5 0.3l0.5 0.2l0.5 0.2l0.5 0.2l0.5 0.0l0.5 0.2l0.5 0.3l0.5 0.2l0.5 0.0l0.5 0.2l0.5 0.2l0.5 0.2l0.5 0.3l0.5 0.1l0.5 -0.1l0.4 -0.0l0.5 -0.0l0.5 0.1l0.5 0.2l0.5 0.4l0.5 0.3l0.5 0.2l0.5 0.2l0.5 0.3l0.5 0.5l0.5 0.5l0.5 0.5l0.5 0.4l0.5 0.3l0.5 0.3l0.5 0.3l0.5 0.0l0.5 0.1l0.5 0.5l0.5 0.6l0.5 0.6l0.5 0.2l0.5 0.1l0.5 0.5l0.5 0.7l0.5 0.9l0.5 0.5l0.5 0.1l0.5 0.1l0.5 0.2l0.5 0.6l0.5 0.9l0.5 1.0l0.5 0.8l0.5 0.5l0.4 0.0l0.5 0.1l0.5 0.4l0.5 0.8l0.5 1.2l0.5 1.1l0.5 1.0l0.5 0.9l0.5 0.9l0.5 1.1l0.5 1.6l0.5 1.4l0.5 0.9l0.5 0.5l0.0 0.1l0.1 0.6l0.1 0.5l0.2 0.3l0.1 0.4l0.0 0.4l0.1 0.7l0.2 0.2l0.1 -0.1l0.1 -0.1l0.0 -0.2l0.1 0.3l0.2 0.4l0.1 0.5l0.1 0.2l0.0 0.1l0.2 0.2l0.1 0.3l0.1 0.4l0.1 0.1l0.1 -0.0l0.1 0.4l0.1 0.8l0.1 0.5l0.1 -0.1l0.1 -0.0l0.1 0.5l0.1 0.6l0.2 0.3l-0.0 -0.3l0.1 0.0l0.1 0.3l0.2 0.5l0.1 0.5l-0.0 0.2l0.1 0.4l0.1 0.4l0.2 0.2l0.1 0.1l0.0 -0.1l0.1 0.1l0.2 0.1l0.1 0.0l0.1 0.1l0.0 -0.0l0.2 0.3l0.1 0.4l0.1 0.3l0.1 0.2l0.0 0.3l0.2 0.7l0.1 0.6l0.1 0.2l0.1 -0.1l0.1 0.1l0.1 0.2l0.1 0.2l0.2 0.0l-0.0 -0.2l0.1 0.0l0.1 0.3l0.1 0.5l0.2 0.6l-0.0 0.2l0.1 0.1l0.1 0.0l0.2 -0.1l0.1 -0.1l-0.0 -0.2l0.1 0.2l0.1 0.4l0.2 0.3l0.1 0.0l0.0 0.0l0.1 0.4l0.2 0.3l0.1 0.0l0.1 -0.0l0.0 0.1l0.2 -0.0l0.1 -0.2l0.1 -0.3l0.1 0.1l0.0 0.2l0.2 -0.1l0.1 -0.5l0.1 -0.4l0.1 0.1l0.1 0.3l0.1 0.4l0.1 0.3l0.2 0.0l-0.0 0.1l0.1 -0.0l0.1 -0.5l0.1 -0.6l0.2 -0.2l-0.0 0.1l0.1 -0.0l0.1 -0.2l0.2 -0.2l0.0 -0.1l0.1 -0.3l0.1 0.0l0.2 0.3l0.1 0.2l0.0 -0.3l0.1 -0.4l0.1 -0.2l0.2 -0.1l0.1 -0.3l0.0 -0.3l0.1 -0.3l0.2 -0.4l0.1 -0.3l0.1 -0.4l0.0 0.1l0.2 0.1l0.1 -0.0l0.1 -0.4l0.1 -0.6l0.0 -0.3l0.2 -0.3l0.1 -0.2l0.1 -0.3l0.1 -0.2l0.1 0.1l0.1 -0.1l0.1 -0.4l0.2 -0.6l0.0 -0.6l0.1 -0.2l0.1 -0.2l0.1 -0.2l0.2 0.0l0.0 0.2l0.1 -0.0l0.1 -0.5l0.2 -0.8l0.1 -0.6l0.0 -0.1l0.1 0.1l0.1 0.0l0.2 -0.3l0.1 -0.5l0.0 -0.1l0.1 -0.3l0.2 -0.3l0.1 -0.3l0.1 -0.5l0.0 -0.1l0.2 -0.3l0.1 -0.2l0.1 -0.3l0.1 -0.2l0.0 0.0l0.2 -0.1l0.1 -0.3l0.1 -0.4l0.1 -0.3l0.1 -0.4l0.1 -0.6l0.1 -0.4l0.2 -0.2l0.0 -0.0l0.1 -0.1l0.1 -0.3l0.1 -0.2l0.2 -0.2l0.0 -0.2l0.1 -0.6l0.1 -0.5l0.2 -0.2l0.1 0.1l0.0 0.3l0.1 -0.3l0.2 -0.6l0.1 -0.2l0.1 -0.1l0.0 -0.1l0.1 -0.3l0.2 -0.1l0.1 0.1l0.1 0.0l0.0 -0.0l0.2 -0.5l0.1 -0.6l0.1 -0.4l0.1 -0.4l0.1 -0.3l0.1 -0.3l0.1 0.0l0.1 0.1l0.1 0.2l0.1 -0.1l0.1 -0.5l0.1 -0.7l0.2 -0.4l-0.0 -0.1l0.1 -0.2l0.1 -0.1l0.3 -0.4l0.5 -0.9l0.5 -0.9l0.5 -1.1l0.5 -0.9l0.5 -0.8l0.5 -0.9l0.5 -1.0l0.5 -1.3l0.5 -0.9l0.5 -0.7l0.5 -0.7l0.5 -0.7l0.5 -0.8l0.4 -0.8l0.5 -1.0l0.5 -0.9l0.5 -0.8l0.5 -0.8l0.5 -0.9l0.5 -0.7l0.5 -0.4l0.5 -0.3l0.5 -0.7l0.5 -0.9l0.5 -0.6l0.5 -0.6l0.5 -0.8l0.5 -0.8l0.5 -0.6l0.5 -0.4l0.5 -0.2l0.5 -0.5l0.5 -0.4l0.5 -0.2l0.5 -0.4l0.5 -0.7l0.5 -0.5l0.5 -0.2l0.5 -0.4l0.5 -0.5l0.5 -0.5l0.5 -0.4l0.5 -0.1l0.5 0.2l0.5 -0.1l0.5 -0.4l0.5 -0.1l0.4 -0.1l0.5 0.1l0.5 0.0l0.5 0.1l0.5 -0.1l0.5 -0.5l0.5 -0.5l0.5 0.2l0.5 0.6l0.5 0.2l0.5 -0.4l0.5 -0.6l0.5 -0.1l0.5 0.2l0.5 0.3l0.5 0.1l0.5 0.0l0.5 -0.2l0.5 -0.4l0.5 -0.4l0.5 -0.0l0.5 0.2l0.5 0.2l0.5 0.0l0.5 -0.0l0.5 -0.1l0.5 0.0l0.5 -0.1l0.5 -0.1l0.5 -0.1l0.5 0.1l0.5 0.2l0.5 0.1l0.5 0.1l0.5 0.3l0.4 0.1l0.5 0.1l0.5 0.1l0.5 -0.1l0.5 -0.1l0.5 0.1l0.5 0.2l0.5 -0.0l0.5 -0.2l0.5 -0.4l0.5 -0.2l0.5 -0.1l0.5 0.0l0.5 0.2l0.5 0.4l0.5 0.3l0.5 0.3l0.5 0.1l0.5 -0.0l0.5 0.0l0.5 0.1l0.5 0.2l0.5 0.3l0.5 0.4l0.5 0.2l0.5 0.2l0.5 0.3l0.5 0.1l0.5 -0.1l0.5 0.1l0.5 0.2l0.5 0.2l0.5 0.0l0.5 0.1l0.5 0.2l0.4 0.5l0.5 0.5l0.5 0.3l0.5 0.1l0.5 0.2l0.5 0.2l0.5 0.2l0.5 0.4l0.5 0.7l0.5 0.9l0.5 0.6l0.5 0.3l0.5 0.3l0.5 0.5l0.5 0.4l0.5 0.3l0.5 0.5l0.5 0.6l0.5 0.8l0.5 0.6l0.5 0.6l0.5 0.6l0.5 0.7l0.5 0.6l0.5 0.8l0.5 1.1l0.5 1.0l0.5 0.8l0.5 0.9l0.5 0.8l0.5 0.7l0.5 0.8l0.5 0.9l0.5 0.9l0.4 1.0l0.5 1.2l0.5 1.2l0.5 1.3l0.1 0.6l0.1 0.3l0.2 0.0l0.1 0.1l0.0 -0.1l0.1 0.1l0.2 0.2l0.1 0.4l0.1 0.4l0.0 -0.0l0.2 0.3l0.1 0.5l0.1 0.6l0.1 0.4l0.0 -0.0l0.2 0.2l0.1 0.4l0.1 0.4l0.1 0.2l0.1 0.1l0.1 0.0l0.1 -0.1l0.2 0.0l0.0 0.2l0.1 0.2l0.1 0.3l0.1 0.6l0.2 0.6l0.0 0.2l0.1 0.0l0.1 0.4l0.2 0.5l0.1 0.6l0.0 -0.2l0.1 -0.1l0.2 0.4l0.1 0.7l0.1 0.6l0.0 0.3l0.1 0.6l0.2 0.4l0.1 0.1l0.1 0.0l0.0 0.0l0.2 0.3l0.1 0.1l0.1 -0.0l0.1 -0.0l0.1 0.0l0.1 0.3l0.1 0.3l0.1 0.3l0.1 0.3l0.1 0.2l0.1 -0.2l0.1 0.1l0.2 0.5l0.0 0.4l0.1 0.1l0.1 0.3l0.2 0.4l0.1 0.2l0.0 -0.1l0.1 0.3l0.1 0.3l0.2 0.2l0.1 0.2l0.1 0.1l0.2 -0.0l0.1 -0.1l0.1 -0.0l0.0 0.1l0.1 0.2l0.2 0.0l0.1 0.3l0.1 0.3l0.0 -0.0l0.2 -0.2l0.1 -0.0l0.1 -0.1l0.1 -0.2l0.1 0.2l0.1 0.4l0.1 0.3l0.1 -0.2l0.1 -0.2l0.1 0.0l0.1 0.4l0.1 0.3l0.2 0.0l-0.0 -0.4l0.1 -0.8l0.1 -0.5l0.2 0.1l0.1 0.1l-0.0 -0.1l0.1 -0.4l0.1 -0.1l0.2 0.3l0.1 0.2l0.0 -0.0l0.1 -0.5l0.2 -0.4l0.1 -0.0l0.1 0.0l0.0 -0.0l0.2 -0.3l0.1 -0.2l0.1 -0.1l0.1 -0.0l0.0 -0.3l0.2 -0.3l0.1 -0.2l0.1 -0.1l0.1 -0.1l0.1 -0.5l0.1 -0.5l0.1 -0.3l0.2 0.2l-0.0 0.4l0.1 0.1l0.1 -0.3l0.1 -0.7l0.2 -0.7l-0.0 -0.2l0.1 -0.3l0.1 -0.0l0.2 -0.2l0.1 -0.1l-0.0 0.2l0.1 -0.2l0.2 -0.6l0.1 -0.6l0.1 -0.4l0.0 -0.3l0.1 -0.5l0.2 -0.3l0.1 -0.2l0.1 -0.2l0.0 -0.4l0.2 -0.6l0.1 -0.5l0.1 -0.2l0.1 0.2l0.0 0.0l0.2 -0.0l0.1 -0.1l0.1 -0.3l0.1 -0.0l0.1 -0.3l0.1 -0.5l0.1 -0.5l0.1 -0.4l0.1 -0.1l0.1 -0.4l0.1 -0.3l0.1 0.1l0.1 0.0l0.1 -0.2l0.1 -0.9l0.1 -0.8l0.2 -0.4l0.0 0.1l0.1 0.1l0.1 -0.2l0.2 -0.3l0.1 -0.2l0.0 -0.0l0.1 -0.2l0.1 -0.5l0.2 -0.5l0.1 -0.2l0.0 0.2l0.1 0.1l0.2 -0.0l0.1 -0.2l0.1 -0.4l0.0 -0.2l0.2 -0.5l0.1 -0.6l0.1 -0.7l0.1 -0.6l0.0 -0.2l0.2 -0.5l0.1 -0.3l0.1 -0.3l0.1 0.0l0.1 0.4l0.1 -0.0l0.1 -0.3l0.2 -0.5l0.0 -0.2l0.1 -0.1l0.1 -0.0l0.1 -0.0l0.2 -0.2l0.0 -0.2l0.1 -0.1l0.1 -0.3l0.2 -0.4l0.1 -0.5l0.5 -1.1l0.5 -0.9l0.5 -0.7l0.5 -0.8l0.5 -1.2l0.5 -1.2l0.5 -1.0l0.5 -0.8l0.5 -0.7l0.5 -0.7l0.5 -0.8l0.5 -0.7l0.5 -0.6l0.5 -0.3l0.5 -0.3l0.5 -0.5l0.5 -0.7l0.5 -0.8l0.5 -0.9l0.5 -0.9l0.5 -0.6l0.5 -0.5l0.5 -0.4l0.4 -0.6l0.5 -0.5l0.5 -0.6l0.5 -0.5l0.5 -0.5l0.5 -0.3l0.5 -0.4l0.5 -0.6l0.5 -0.5l0.5 -0.3l0.5 -0.3l0.5 -0.5l0.5 -0.6l0.5 -0.2l0.5 -0.1l0.5 -0.2l0.5 -0.4l0.5 -0.5l0.5 -0.4l0.5 -0.4l0.5 -0.4l0.5 -0.2l0.5 -0.1l0.5 -0.0l0.5 -0.0l0.5 -0.1l0.5 -0.1l0.5 0.0l0.5 -0.0l0.5 -0.2l0.5 -0.2l0.5 -0.3l0.5 -0.4l0.5 -0.4l0.5 -0.1l0.4 -0.2l0.5 0.0l0.5 -0.0l0.5 -0.1l0.5 -0.1l0.5 0.1l0.5 0.1l0.5 0.2l0.5 0.0l0.5 -0.5l0.5 -0.7l0.5 -0.2l0.5 0.0l0.5 0.3l0.5 0.3l0.5 0.1l0.5 -0.2l0.5 -0.3l0.5 -0.3l0.5 -0.1l0.5 0.1l0.5 0.2l0.5 -0.1l0.5 -0.3l0.5 0.0l0.5 0.4l0.5 0.0l0.5 -0.1l0.5 0.0l0.5 0.3l0.5 0.4l0.5 0.1l0.5 -0.2l0.5 -0.4l0.5 -0.3l0.4 -0.1l0.5 -0.0l0.5 -0.0l0.5 0.2l0.5 0.7l0.5 0.7l0.5 0.0l0.5 -0.3l0.5 -0.3l0.5 0.3l0.5 0.5l0.5 0.6l0.5 0.5l0.5 0.1l0.5 0.0l0.5 0.2l0.5 -0.0l0.5 -0.1l0.5 0.1l0.5 0.3l0.5 0.4l0.5 0.5l0.5 0.4l0.5 0.3l0.5 0.4l0.5 0.4l0.5 0.2l0.5 0.4l0.5 0.7l0.5 0.6l0.5 0.5l0.5 0.8l0.5 0.8l0.5 0.6l0.4 0.6l0.5 0.4l0.5 0.3l0.5 0.5l0.5 0.8l0.5 0.9l0.5 0.9l0.5 0.9l0.5 0.8l0.5 1.0l0.5 1.1l0.5 0.9l0.5 1.0l0.5 1.3l0.5 1.4l0.5 1.0l0.5 0.7l0.5 1.0" stroke="#000080"/>
</g>
<g clip-path="url(#cr)" fill="none" stroke-width="1.1" stroke-linejoin="round">
<path d="M383.0 39.0l0.6 0.0l0.6 0.2l0.6 0.6l0.6 0.7l0.6 0.4l0.6 0.1l0.6 0.2l0.6 0.3l0.6 0.2l0.6 0.1l0.6 0.2l0.6 0.4l0.6 0.6l0.6 0.1l0.6 0.2l0.6 0.6l0.6 1.0l0.6 0.7l0.6 0.4l0.6 0.2l0.6 -0.2l0.6 -0.1l0.6 0.3l0.6 0.7l0.6 0.8l0.6 0.9l0.6 0.9l0.6 0.4l0.6 -0.3l0.6 -0.4l0.6 0.1l0.6 0.4l0.6 0.7l0.6 0.7l0.6 0.2l0.7 -0.2l0.6 0.1l0.6 0.6l0.6 0.9l0.6 0.3l0.6 -0.0l0.6 0.2l0.6 0.5l0.6 0.3l0.6 0.1l0.6 0.1l0.6 0.0l0.6 0.1l0.6 -0.0l0.6 0.3l0.6 0.7l0.6 0.9l0.6 0.6l0.6 0.1l0.6 -0.2l0.6 0.0l0.6 0.4l0.6 0.7l0.6 0.7l0.6 0.6l0.6 0.2l0.6 -0.0l0.6 0.1l0.6 0.2l0.6 0.6l0.6 0.9l0.6 0.9l0.6 0.4l0.6 0.2l0.6 0.2l0.6 0.4l0.6 0.4l0.6 0.5l0.6 0.3l0.6 0.2l0.6 0.7l0.6 0.8l0.6 0.7l0.6 0.6l0.6 0.4l0.6 0.3l0.6 0.6l0.6 0.5l0.6 0.4l0.6 0.4l0.6 0.4l0.6 0.5l0.6 0.9l0.6 1.0l0.6 0.8l0.6 0.2l0.6 0.2l0.6 0.4l0.6 0.3l0.6 0.2l0.6 0.1l0.6 0.3l0.6 1.2l0.6 1.4l0.6 0.9l0.6 0.7l0.6 0.8l0.6 1.1l0.6 1.0l0.6 0.7l0.6 0.6l0.6 0.5l0.7 0.7l0.6 1.0l0.6 1.1l0.6 1.2l0.6 1.2l0.6 1.1l0.6 1.2l0.6 1.2l0.6 0.8l0.6 0.4l0.6 0.5l0.6 1.1l0.6 1.4l0.6 1.0l0.6 0.8l0.6 0.7l0.6 0.8l0.6 0.9l0.6 0.8l0.6 0.7l0.6 0.6l0.6 0.8l0.6 1.1l0.6 1.1l0.6 0.5l0.6 0.4l0.6 1.0l0.6 1.6l0.6 1.6l0.6 1.4l0.6 1.0l0.6 1.0l0.6 1.1l0.6 1.4l0.6 1.8l0.6 1.5l0.6 0.8l0.6 0.4l0.6 0.7l0.6 0.9l0.6 0.9l0.6 0.9l0.6 1.1l0.6 0.9l0.6 0.6l0.6 0.8l0.6 1.4l0.6 1.3l0.6 1.0l0.6 0.7l0.6 0.8l0.6 1.2l0.6 1.2l0.6 0.8l0.6 0.8l0.6 1.5l0.6 2.0l0.6 2.0l0.6 1.8l0.6 1.8l0.6 1.9l0.6 1.6l0.6 1.8l0.6 2.2l0.6 2.5l0.6 2.5l0.6 2.2l0.6 2.1l0.6 2.2l0.6 2.3l0.6 2.3l0.7 2.3l0.6 2.1l0.6 2.1l0.6 2.4l0.6 2.7l0.6 3.0l0.6 3.4l0.6 3.2l0.6 3.0l0.6 3.7l0.6 3.8l0.6 2.7l0.6 2.1l0.6 1.4l0.6 0.2l0.6 -0.9l0.6 -1.2l0.6 -1.6l0.6 -2.0l0.6 -2.9l0.6 -3.5l0.6 -3.5l0.6 -2.8l0.6 -2.3l0.6 -2.8l0.6 -2.9l0.6 -2.7l0.6 -2.7l0.6 -3.2l0.6 -3.3l0.6 -3.0l0.6 -2.8l0.6 -2.3l0.6 -2.1l0.6 -2.2l0.6 -2.4l0.6 -1.9l0.6 -1.2l0.6 -1.1l0.6 -1.2l0.6 -1.0l0.6 -0.7l0.6 -0.5l0.6 -0.6l0.6 -1.0l0.6 -1.5l0.6 -1.5l0.6 -1.2l0.6 -0.8l0.6 -0.8l0.6 -1.0l0.6 -1.1l0.6 -1.1l0.6 -1.4l0.6 -1.8l0.6 -1.6l0.6 -1.3l0.6 -1.3l0.6 -1.6l0.6 -1.5l0.6 -1.1l0.6 -1.1l0.6 -0.9l0.6 -1.0l0.6 -1.1l0.6 -1.4l0.6 -1.5l0.6 -1.2l0.6 -0.7l0.6 -0.7l0.6 -0.9l0.6 -1.0l0.7 -0.6l0.6 -0.2l0.6 -0.3l0.6 -0.6l0.6 -1.0l0.6 -1.6l0.6 -1.6l0.6 -1.1l0.6 -0.8l0.6 -0.9l0.6 -1.0l0.6 -0.9l0.6 -1.1l0.6 -1.5l0.6 -1.5l0.6 -1.3l0.6 -1.2l0.6 -1.4l0.6 -1.7l0.6 -1.5l0.6 -0.9l0.6 -0.8l0.6 -1.1l0.6 -0.9l0.6 -0.5l0.6 -0.1l0.6 0.1l0.6 -0.2l0.6 -0.6l0.6 -0.6l0.6 -0.3l0.6 -0.2l0.6 -0.6l0.6 -0.9l0.6 -0.8l0.6 -0.4l0.6 -0.6l0.6 -0.9l0.6 -0.6l0.6 -0.2l0.6 -0.3l0.6 -0.3l0.6 -0.1l0.6 -0.3l0.6 -0.4l0.6 -0.5l0.6 -0.7l0.6 -0.9l0.6 -0.7l0.6 -0.3l0.6 -0.1l0.6 -0.2l0.6 -0.4l0.6 -0.2l0.6 -0.2l0.6 -0.3l0.6 -0.5l0.6 -0.7l0.6 -0.6l0.6 -0.9l0.6 -1.0l0.6 -0.4l0.6 0.2l0.6 0.0l0.6 -0.4l0.6 -0.9l0.6 -1.1l0.6 -0.7l0.6 -0.6l0.6 -0.6l0.6 -0.8l0.7 -0.6l0.6 -0.7l0.6 -0.7l0.6 -0.6l0.6 -0.2l0.6 -0.2l0.6 -0.5l0.6 -0.7l0.6 -0.3l0.6 -0.1l0.6 -0.5l0.6 -0.5l0.6 -0.2l0.6 -0.4l0.6 -0.7l0.6 -0.4l0.6 -0.2l0.6 -0.5l0.6 -0.4l0.6 -0.2l0.6 -0.3l0.6 -0.7l0.6 -0.9l0.6 -0.7l0.6 -0.4l0.6 0.2l0.6 0.4l0.6 0.2l0.6 -0.1l0.6 -0.6l0.6 -0.6l0.6 -0.6l0.6 -0.7l0.6 -0.2l0.6 -0.1l0.6 -0.4l0.6 -1.2l0.6 -1.5l0.6 -1.5l0.6 -1.0l0.6 -0.6l0.6 -0.1l0.6 0.4l0.6 0.1l0.6 -0.6l0.6 -0.9l0.6 -0.6l0.6 -0.1l0.6 0.4l0.6 0.0l0.6 -0.6l0.6 -0.6l0.6 -0.3l0.6 0.0l0.6 0.3l0.6 -0.2l0.6 -0.7l0.6 -0.4l0.6 -0.2l0.6 -0.6l0.6 -0.6l0.6 -0.2l0.6 -0.2l0.6 -0.2l0.6 -0.3l0.6 -0.2l0.6 -0.1l0.6 -0.1l0.6 -0.1l0.6 -0.1l0.6 -0.2l0.6 -0.3l0.7 -0.3l0.6 -0.2l0.6 -0.3l0.6 -0.5l0.6 -0.4l0.6 0.2l0.6 0.1l0.6 -0.3l0.6 -0.6l0.6 -0.6l0.6 -0.2l0.6 -0.2l0.6 -0.0l0.6 -0.1l0.6 -0.5l0.6 -0.6l0.6 -0.6l0.6 -0.5l0.6 -0.2l0.6 0.5l0.6 0.4l0.6 -0.2l0.6 -0.6l0.6 -0.4l0.6 -0.4l0.6 -0.6l0.6 -0.8l0.6 -0.4l0.6 0.2l0.6 0.2l0.6 -0.2l0.6 -0.7l0.6 -0.6l0.6 -0.6l0.6 -0.6l0.6 -0.3" stroke="#000000"/>
<path d="M383.0 30.7l0.6 0.6l0.6 0.6l0.6 0.6l0.6 0.6l0.6 0.5l0.6 0.3l0.6 0.2l0.6 0.4l0.6 0.6l0.6 0.6l0.6 0.1l0.6 -0.1l0.6 0.1l0.6 0.5l0.6 0.7l0.6 0.5l0.6 0.4l0.6 0.2l0.6 0.3l0.6 0.3l0.6 0.6l0.6 0.7l0.6 0.7l0.6 0.2l0.6 -0.1l0.6 0.1l0.6 0.0l0.6 0.2l0.6 0.7l0.6 0.8l0.6 0.5l0.6 0.1l0.6 -0.1l0.6 -0.0l0.6 0.3l0.7 0.8l0.6 0.8l0.6 0.4l0.6 0.2l0.6 0.2l0.6 0.2l0.6 0.3l0.6 0.2l0.6 0.3l0.6 0.3l0.6 0.4l0.6 0.4l0.6 0.2l0.6 0.2l0.6 0.4l0.6 0.4l0.6 -0.0l0.6 0.1l0.6 0.4l0.6 0.6l0.6 0.5l0.6 0.2l0.6 0.3l0.6 0.3l0.6 0.4l0.6 0.5l0.6 0.3l0.6 0.0l0.6 0.2l0.6 0.3l0.6 0.4l0.6 0.3l0.6 0.6l0.6 0.6l0.6 0.4l0.6 0.4l0.6 0.4l0.6 0.3l0.6 0.3l0.6 0.4l0.6 0.7l0.6 0.7l0.6 0.3l0.6 -0.0l0.6 0.1l0.6 0.8l0.6 0.8l0.6 0.4l0.6 0.1l0.6 0.3l0.6 0.6l0.6 0.8l0.6 0.6l0.6 0.4l0.6 0.5l0.6 0.5l0.6 0.6l0.6 0.5l0.6 0.4l0.6 0.3l0.6 0.2l0.6 0.6l0.6 1.0l0.6 1.0l0.6 0.6l0.6 0.6l0.6 0.8l0.6 0.9l0.6 1.0l0.6 0.6l0.6 0.3l0.6 0.3l0.7 0.7l0.6 0.7l0.6 0.6l0.6 0.5l0.6 0.7l0.6 0.7l0.6 0.5l0.6 0.7l0.6 0.8l0.6 0.7l0.6 0.5l0.6 0.4l0.6 0.4l0.6 0.4l0.6 0.5l0.6 0.3l0.6 0.5l0.6 0.9l0.6 1.4l0.6 1.3l0.6 0.8l0.6 0.3l0.6 0.4l0.6 0.9l0.6 1.1l0.6 0.5l0.6 0.1l0.6 0.4l0.6 0.9l0.6 1.2l0.6 0.8l0.6 0.4l0.6 0.2l0.6 0.1l0.6 0.4l0.6 1.0l0.6 1.5l0.6 1.1l0.6 0.6l0.6 0.3l0.6 0.4l0.6 0.5l0.6 0.4l0.6 0.4l0.6 0.6l0.6 0.8l0.6 0.9l0.6 0.5l0.6 0.3l0.6 0.6l0.6 1.0l0.6 1.3l0.6 1.1l0.6 0.8l0.6 0.8l0.6 0.8l0.6 0.9l0.6 1.0l0.6 0.7l0.6 0.4l0.6 1.0l0.6 1.4l0.6 1.2l0.6 0.8l0.6 0.6l0.6 0.8l0.6 0.9l0.6 0.8l0.6 0.6l0.6 0.6l0.6 1.1l0.7 1.5l0.6 1.4l0.6 0.9l0.6 0.6l0.6 0.8l0.6 1.4l0.6 1.5l0.6 1.1l0.6 0.7l0.6 1.0l0.6 1.6l0.6 2.3l0.6 2.0l0.6 1.1l0.6 0.3l0.6 0.0l0.6 0.5l0.6 0.8l0.6 0.7l0.6 0.8l0.6 0.9l0.6 1.0l0.6 0.9l0.6 0.7l0.6 0.7l0.6 0.5l0.6 0.3l0.6 0.0l0.6 0.0l0.6 -0.2l0.6 -0.5l0.6 -0.7l0.6 -0.7l0.6 -0.5l0.6 -0.2l0.6 -0.0l0.6 -0.3l0.6 -0.5l0.6 -0.4l0.6 -0.8l0.6 -1.0l0.6 -1.0l0.6 -1.3l0.6 -1.1l0.6 -0.6l0.6 -0.6l0.6 -1.0l0.6 -0.8l0.6 -0.8l0.6 -1.1l0.6 -1.3l0.6 -0.8l0.6 -0.4l0.6 -0.3l0.6 -0.9l0.6 -1.6l0.6 -1.8l0.6 -1.5l0.6 -1.4l0.6 -1.3l0.6 -1.0l0.6 -0.7l0.6 -0.6l0.6 -0.6l0.6 -0.6l0.6 -0.7l0.6 -0.7l0.6 -0.6l0.6 -0.7l0.6 -0.6l0.6 -0.0l0.6 0.1l0.7 -0.3l0.6 -0.8l0.6 -1.2l0.6 -1.3l0.6 -1.2l0.6 -1.0l0.6 -0.8l0.6 -0.5l0.6 -0.2l0.6 -0.8l0.6 -1.5l0.6 -1.8l0.6 -1.8l0.6 -1.6l0.6 -1.3l0.6 -0.8l0.6 -1.3l0.6 -1.7l0.6 -1.7l0.6 -1.2l0.6 -1.0l0.6 -1.2l0.6 -0.5l0.6 0.2l0.6 0.2l0.6 -0.0l0.6 -0.4l0.6 -0.9l0.6 -1.1l0.6 -0.9l0.6 -0.6l0.6 -0.5l0.6 -0.3l0.6 -0.7l0.6 -0.8l0.6 -0.3l0.6 -0.0l0.6 -0.3l0.6 -0.8l0.6 -0.8l0.6 -0.6l0.6 -0.5l0.6 -0.3l0.6 -0.4l0.6 -0.4l0.6 -0.3l0.6 -0.5l0.6 -0.6l0.6 -0.6l0.6 -0.7l0.6 -1.0l0.6 -1.0l0.6 -0.9l0.6 -0.3l0.6 0.1l0.6 0.1l0.6 -0.3l0.6 -0.7l0.6 -1.0l0.6 -0.8l0.6 -0.5l0.6 -0.7l0.6 -0.5l0.6 -0.0l0.6 0.2l0.6 -0.2l0.6 -0.6l0.6 -0.5l0.6 -1.0l0.6 -1.1l0.6 -0.8l0.7 -0.4l0.6 -0.5l0.6 -0.6l0.6 -0.5l0.6 -0.6l0.6 -0.6l0.6 -0.5l0.6 -0.4l0.6 -0.3l0.6 -0.4l0.6 -0.4l0.6 -0.4l0.6 -0.5l0.6 -0.5l0.6 -0.3l0.6 0.2l0.6 0.4l0.6 0.1l0.6 -0.4l0.6 -0.7l0.6 -0.8l0.6 -0.5l0.6 -0.4l0.6 -0.3l0.6 -0.3l0.6 -0.6l0.6 -0.8l0.6 -0.5l0.6 -0.0l0.6 0.1l0.6 -0.1l0.6 -0.4l0.6 -0.4l0.6 -0.5l0.6 -0.4l0.6 -0.3l0.6 -1.3l0.6 -1.9l0.6 -1.4l0.6 -0.2l0.6 -0.2l0.6 -0.6l0.6 -0.7l0.6 -0.4l0.6 0.0l0.6 0.2l0.6 -0.0l0.6 -0.4l0.6 -0.6l0.6 -0.7l0.6 -0.4l0.6 -0.0l0.6 -0.0l0.6 -0.0l0.6 0.0l0.6 -0.2l0.6 -0.7l0.6 -1.0l0.6 -0.8l0.6 -0.4l0.6 -0.0l0.6 0.0l0.6 0.1l0.6 -0.0l0.6 -0.5l0.6 -0.5l0.6 -0.2l0.6 0.0l0.6 -0.3l0.6 -0.5l0.6 -0.3l0.6 0.0l0.7 0.2l0.6 -0.2l0.6 -0.6l0.6 -0.5l0.6 -0.3l0.6 -0.2l0.6 -0.3l0.6 -0.2l0.6 -0.5l0.6 -0.4l0.6 -0.5l0.6 -0.4l0.6 -0.2l0.6 -0.1l0.6 -0.2l0.6 -0.6l0.6 -0.7l0.6 -0.5l0.6 -0.1l0.6 0.2l0.6 0.2l0.6 -0.0l0.6 -0.3l0.6 -0.4l0.6 -0.5l0.6 -0.4l0.6 -0.3l0.6 -0.1l0.6 -0.0l0.6 0.0l0.6 -0.1l0.6 -0.4l0.6 -0.7l0.6 -0.7l0.6 -0.2l0.6 0.1" stroke="#ff0000"/>
<path d="M383.0 25.7l0.6 0.3l0.6 0.3l0.6 0.4l0.6 0.5l0.6 0.5l0.6 0.2l0.6 0.3l0.6 0.5l0.6 0.3l0.6 0.2l0.6 0.4l0.6 0.3l0.6 0.2l0.6 0.4l0.6 0.4l0.6 0.1l0.6 -0.1l0.6 -0.0l0.6 0.2l0.6 0.3l0.6 0.4l0.6 0.9l0.6 0.9l0.6 0.6l0.6 0.4l0.6 0.1l0.6 -0.2l0.6 -0.3l0.6 -0.0l0.6 0.4l0.6 0.6l0.6 0.5l0.6 0.2l0.6 -0.0l0.6 0.2l0.7 0.5l0.6 0.8l0.6 0.6l0.6 0.5l0.6 0.1l0.6 0.0l0.6 0.0l0.6 0.1l0.6 0.1l0.6 0.2l0.6 0.4l0.6 0.8l0.6 0.7l0.6 0.2l0.6 -0.1l0.6 -0.0l0.6 0.3l0.6 0.6l0.6 0.2l0.6 0.1l0.6 0.2l0.6 0.6l0.6 0.6l0.6 0.5l0.6 0.2l0.6 0.2l0.6 0.3l0.6 0.2l0.6 0.0l0.6 0.4l0.6 0.7l0.6 0.6l0.6 0.4l0.6 0.2l0.6 0.3l0.6 0.4l0.6 0.5l0.6 0.1l0.6 0.2l0.6 0.7l0.6 0.9l0.6 0.3l0.6 0.0l0.6 0.4l0.6 0.4l0.6 0.0l0.6 0.1l0.6 0.6l0.6 0.9l0.6 0.3l0.6 0.1l0.6 0.4l0.6 0.8l0.6 0.7l0.6 0.2l0.6 0.3l0.6 0.3l0.6 0.0l0.6 -0.1l0.6 0.1l0.6 0.4l0.6 0.6l0.6 0.8l0.6 0.8l0.6 0.6l0.6 0.4l0.6 0.0l0.6 -0.3l0.6 -0.4l0.6 -0.0l0.6 0.5l0.6 0.9l0.7 0.8l0.6 0.7l0.6 0.7l0.6 0.3l0.6 0.2l0.6 -0.0l0.6 0.4l0.6 1.0l0.6 1.4l0.6 1.2l0.6 0.9l0.6 0.6l0.6 0.4l0.6 0.5l0.6 0.4l0.6 0.4l0.6 0.4l0.6 0.7l0.6 1.0l0.6 0.5l0.6 0.1l0.6 0.4l0.6 0.7l0.6 0.9l0.6 1.2l0.6 0.6l0.6 0.2l0.6 0.4l0.6 0.5l0.6 0.2l0.6 0.2l0.6 0.6l0.6 0.8l0.6 0.5l0.6 -0.1l0.6 -0.4l0.6 -0.1l0.6 0.6l0.6 1.0l0.6 0.7l0.6 0.5l0.6 0.4l0.6 0.4l0.6 0.2l0.6 0.1l0.6 0.1l0.6 0.2l0.6 0.5l0.6 0.9l0.6 0.8l0.6 0.3l0.6 0.1l0.6 0.2l0.6 0.1l0.6 0.4l0.6 0.7l0.6 1.1l0.6 1.0l0.6 0.7l0.6 0.5l0.6 1.1l0.6 0.9l0.6 0.2l0.6 -0.3l0.6 -0.1l0.6 0.4l0.6 0.3l0.6 0.1l0.6 0.1l0.6 0.3l0.6 0.2l0.7 0.1l0.6 -0.1l0.6 -0.1l0.6 -0.0l0.6 0.5l0.6 0.9l0.6 0.8l0.6 0.3l0.6 0.2l0.6 0.2l0.6 0.3l0.6 0.3l0.6 0.5l0.6 0.6l0.6 0.7l0.6 0.4l0.6 0.1l0.6 0.0l0.6 0.2l0.6 0.5l0.6 0.7l0.6 0.4l0.6 0.4l0.6 0.5l0.6 0.4l0.6 0.2l0.6 0.2l0.6 0.3l0.6 0.1l0.6 0.3l0.6 0.5l0.6 0.1l0.6 -0.2l0.6 -0.1l0.6 0.5l0.6 0.5l0.6 0.1l0.6 -0.3l0.6 -0.4l0.6 -0.3l0.6 -0.1l0.6 0.2l0.6 -0.1l0.6 -0.2l0.6 -0.0l0.6 0.1l0.6 -0.2l0.6 -0.4l0.6 -0.6l0.6 -0.3l0.6 -0.1l0.6 -0.1l0.6 -0.1l0.6 -0.1l0.6 0.1l0.6 -0.1l0.6 -0.2l0.6 -0.2l0.6 -0.1l0.6 -0.1l0.6 -0.4l0.6 -0.4l0.6 -0.4l0.6 -0.4l0.6 -0.5l0.6 -0.6l0.6 -0.8l0.6 -0.5l0.6 -0.2l0.6 -0.3l0.6 -0.6l0.6 -0.6l0.7 -0.7l0.6 -0.5l0.6 -0.4l0.6 -0.3l0.6 -0.3l0.6 -0.7l0.6 -1.0l0.6 -0.9l0.6 -0.9l0.6 -1.1l0.6 -0.7l0.6 -0.3l0.6 -0.4l0.6 -0.8l0.6 -0.9l0.6 -0.6l0.6 -0.7l0.6 -0.9l0.6 -0.9l0.6 -0.6l0.6 -0.3l0.6 -0.4l0.6 -0.5l0.6 -0.5l0.6 -0.6l0.6 -0.3l0.6 -0.2l0.6 -0.3l0.6 -0.2l0.6 -0.3l0.6 -0.4l0.6 -0.5l0.6 -0.5l0.6 -0.4l0.6 -0.7l0.6 -1.1l0.6 -1.0l0.6 -0.7l0.6 -0.7l0.6 -0.8l0.6 -0.8l0.6 -0.5l0.6 0.0l0.6 -0.1l0.6 -0.6l0.6 -0.7l0.6 -0.2l0.6 -0.0l0.6 -0.2l0.6 -0.4l0.6 -0.4l0.6 -0.3l0.6 -0.2l0.6 -0.1l0.6 -0.3l0.6 -0.2l0.6 0.1l0.6 0.2l0.6 -0.0l0.6 -0.1l0.6 -0.3l0.6 0.0l0.6 0.4l0.6 0.2l0.6 -0.6l0.6 -1.0l0.6 -0.7l0.6 -0.5l0.6 -1.0l0.6 -1.1l0.6 -0.7l0.7 -0.4l0.6 -0.6l0.6 -1.0l0.6 -0.9l0.6 -0.2l0.6 0.3l0.6 0.3l0.6 0.1l0.6 -0.2l0.6 -0.7l0.6 -1.0l0.6 -0.9l0.6 -0.4l0.6 -0.1l0.6 -0.3l0.6 -0.4l0.6 -0.5l0.6 -0.6l0.6 -0.5l0.6 -0.2l0.6 -0.1l0.6 -0.2l0.6 -0.2l0.6 -0.3l0.6 -0.2l0.6 -0.4l0.6 -0.3l0.6 -0.2l0.6 0.1l0.6 -0.1l0.6 -0.3l0.6 -0.1l0.6 -0.4l0.6 -0.7l0.6 -0.4l0.6 0.1l0.6 -0.9l0.6 -1.5l0.6 -1.1l0.6 -0.4l0.6 -0.4l0.6 -0.3l0.6 -0.2l0.6 0.1l0.6 -0.1l0.6 -0.5l0.6 -0.7l0.6 -0.8l0.6 -0.6l0.6 -0.4l0.6 -0.0l0.6 0.1l0.6 0.1l0.6 0.2l0.6 -0.0l0.6 -0.2l0.6 -0.4l0.6 -0.4l0.6 -0.1l0.6 -0.2l0.6 -0.7l0.6 -1.0l0.6 -0.6l0.6 0.0l0.6 0.3l0.6 0.2l0.6 -0.2l0.6 -0.4l0.6 -0.2l0.6 -0.2l0.6 -0.8l0.6 -0.9l0.7 -0.5l0.6 -0.2l0.6 -0.1l0.6 -0.2l0.6 -0.3l0.6 -0.5l0.6 -0.6l0.6 -0.7l0.6 -0.4l0.6 -0.1l0.6 -0.1l0.6 -0.2l0.6 -0.5l0.6 -0.6l0.6 -0.4l0.6 0.0l0.6 0.4l0.6 0.1l0.6 -0.4l0.6 -0.5l0.6 -0.7l0.6 -0.5l0.6 -0.1l0.6 0.1l0.6 -0.1l0.6 -0.4l0.6 -0.2l0.6 -0.3l0.6 -0.3l0.6 -0.3l0.6 -0.2l0.6 -0.1l0.6 -0.3l0.6 -0.5l0.6 -0.6l0.6 -0.6" stroke="#0000ff"/>
<path d="M383.0 22.4l0.6 0.4l0.6 0.3l0.6 0.0l0.6 -0.2l0.6 -0.2l0.6 0.1l0.6 0.6l0.6 1.0l0.6 0.7l0.6 0.2l0.6 0.1l0.6 0.2l0.6 0.2l0.6 -0.2l0.6 -0.0l0.6 0.1l0.6 0.1l0.6 0.2l0.6 0.5l0.6 0.8l0.6 0.7l0.6 0.3l0.6 -0.2l0.6 -0.0l0.6 0.3l0.6 0.2l0.6 -0.0l0.6 -0.1l0.6 0.5l0.6 0.7l0.6 0.5l0.6 0.2l0.6 0.1l0.6 0.3l0.6 0.4l0.7 0.5l0.6 0.7l0.6 0.6l0.6 0.3l0.6 -0.2l0.6 -0.5l0.6 -0.2l0.6 0.6l0.6 1.0l0.6 0.7l0.6 -0.1l0.6 -0.3l0.6 0.4l0.6 0.9l0.6 0.5l0.6 0.2l0.6 0.4l0.6 0.7l0.6 0.7l0.6 0.1l0.6 -0.1l0.6 0.3l0.6 0.5l0.6 0.2l0.6 -0.0l0.6 0.3l0.6 0.5l0.6 0.2l0.6 -0.1l0.6 0.2l0.6 0.5l0.6 0.5l0.6 0.6l0.6 0.3l0.6 0.2l0.6 0.3l0.6 0.2l0.6 0.3l0.6 0.5l0.6 0.4l0.6 0.3l0.6 0.5l0.6 0.3l0.6 0.2l0.6 0.6l0.6 0.9l0.6 0.7l0.6 0.2l0.6 -0.3l0.6 -0.2l0.6 0.1l0.6 0.5l0.6 0.4l0.6 0.5l0.6 0.5l0.6 0.3l0.6 0.0l0.6 -0.1l0.6 -0.0l0.6 0.2l0.6 0.7l0.6 0.8l0.6 0.2l0.6 -0.0l0.6 -0.1l0.6 0.3l0.6 0.5l0.6 0.4l0.6 0.3l0.6 0.3l0.6 0.3l0.6 0.2l0.7 0.0l0.6 0.2l0.6 0.4l0.6 0.3l0.6 0.4l0.6 0.5l0.6 0.5l0.6 0.5l0.6 0.3l0.6 0.4l0.6 0.1l0.6 0.2l0.6 0.4l0.6 0.7l0.6 0.6l0.6 0.5l0.6 0.3l0.6 0.7l0.6 0.7l0.6 0.5l0.6 0.6l0.6 1.0l0.6 1.0l0.6 0.7l0.6 0.2l0.6 0.1l0.6 0.0l0.6 0.3l0.6 0.9l0.6 0.7l0.6 0.4l0.6 0.3l0.6 0.2l0.6 0.0l0.6 0.0l0.6 0.1l0.6 0.3l0.6 0.6l0.6 0.6l0.6 0.3l0.6 -0.2l0.6 -0.2l0.6 0.3l0.6 0.5l0.6 0.5l0.6 0.4l0.6 0.5l0.6 0.7l0.6 0.7l0.6 -0.0l0.6 -0.7l0.6 -0.4l0.6 0.3l0.6 0.9l0.6 1.0l0.6 0.4l0.6 -0.3l0.6 0.0l0.6 0.6l0.6 0.3l0.6 0.2l0.6 0.2l0.6 0.2l0.6 -0.0l0.6 0.1l0.6 0.4l0.6 0.2l0.6 0.0l0.6 -0.2l0.6 -0.2l0.6 0.0l0.7 0.5l0.6 0.5l0.6 0.1l0.6 -0.3l0.6 -0.4l0.6 0.2l0.6 0.3l0.6 -0.1l0.6 -0.2l0.6 0.5l0.6 0.8l0.6 0.3l0.6 -0.3l0.6 -0.2l0.6 -0.0l0.6 -0.2l0.6 -0.3l0.6 0.1l0.6 0.4l0.6 0.6l0.6 0.3l0.6 -0.0l0.6 -0.1l0.6 -0.2l0.6 0.1l0.6 0.7l0.6 0.6l0.6 0.2l0.6 -0.1l0.6 -0.6l0.6 -0.8l0.6 -0.3l0.6 0.2l0.6 -0.0l0.6 -0.5l0.6 -0.1l0.6 0.1l0.6 -0.1l0.6 -0.3l0.6 -0.3l0.6 -0.3l0.6 -0.3l0.6 -0.1l0.6 0.2l0.6 0.2l0.6 0.0l0.6 0.2l0.6 0.3l0.6 -0.1l0.6 -0.3l0.6 -0.4l0.6 -0.3l0.6 -0.2l0.6 -0.3l0.6 -0.6l0.6 -0.5l0.6 -0.2l0.6 0.2l0.6 -0.1l0.6 -0.3l0.6 -0.4l0.6 -0.3l0.6 -0.3l0.6 -0.2l0.6 -0.6l0.6 -0.6l0.6 -0.5l0.6 -0.6l0.6 -0.9l0.6 -1.0l0.6 -0.8l0.6 -0.5l0.7 -0.1l0.6 0.0l0.6 -0.2l0.6 -0.4l0.6 -0.4l0.6 -0.1l0.6 -0.3l0.6 -0.5l0.6 -0.7l0.6 -0.4l0.6 -0.4l0.6 -0.4l0.6 -0.5l0.6 -0.5l0.6 -0.4l0.6 -0.1l0.6 0.1l0.6 -0.1l0.6 -0.3l0.6 -0.5l0.6 -0.5l0.6 -0.3l0.6 -0.4l0.6 -0.6l0.6 -0.4l0.6 -0.4l0.6 -0.3l0.6 -0.3l0.6 -0.2l0.6 0.0l0.6 0.0l0.6 -0.3l0.6 -0.6l0.6 -0.2l0.6 0.1l0.6 -0.0l0.6 -0.3l0.6 -0.0l0.6 0.1l0.6 -0.2l0.6 -0.7l0.6 -0.9l0.6 -0.7l0.6 -0.3l0.6 -0.1l0.6 0.1l0.6 0.1l0.6 -0.3l0.6 -0.6l0.6 -0.2l0.6 -0.1l0.6 -0.2l0.6 -0.2l0.6 -0.4l0.6 -0.4l0.6 -0.3l0.6 -0.2l0.6 -0.3l0.6 0.0l0.6 0.5l0.6 0.1l0.6 -0.8l0.6 -1.1l0.6 -0.7l0.6 -0.1l0.6 0.1l0.6 -0.1l0.6 -0.0l0.6 0.4l0.6 0.4l0.6 -0.1l0.7 -0.4l0.6 -0.1l0.6 -0.2l0.6 -0.6l0.6 -0.5l0.6 -0.4l0.6 -0.3l0.6 -0.2l0.6 -0.0l0.6 -0.1l0.6 -0.2l0.6 -0.2l0.6 -0.5l0.6 -0.5l0.6 -0.0l0.6 0.3l0.6 0.1l0.6 -0.6l0.6 -0.8l0.6 -0.8l0.6 -0.5l0.6 -0.3l0.6 0.1l0.6 0.1l0.6 -0.4l0.6 -0.6l0.6 -0.5l0.6 -0.5l0.6 -0.5l0.6 -0.4l0.6 -0.1l0.6 0.1l0.6 -0.2l0.6 -0.4l0.6 -0.6l0.6 -0.6l0.6 -0.1l0.6 0.1l0.6 0.0l0.6 -0.3l0.6 -0.6l0.6 -0.3l0.6 -0.3l0.6 -0.5l0.6 -0.7l0.6 -0.6l0.6 -0.3l0.6 -0.1l0.6 0.1l0.6 -0.5l0.6 -1.1l0.6 -0.8l0.6 -0.1l0.6 0.1l0.6 -0.2l0.6 -0.4l0.6 -0.1l0.6 -0.0l0.6 -0.1l0.6 -0.3l0.6 -0.3l0.6 -0.1l0.6 0.2l0.6 0.1l0.6 -0.0l0.6 -0.2l0.6 -0.2l0.6 -0.5l0.6 -0.8l0.6 -0.7l0.6 -0.3l0.6 0.2l0.7 -0.0l0.6 -0.4l0.6 -0.4l0.6 -0.1l0.6 -0.3l0.6 -0.4l0.6 -0.7l0.6 -0.5l0.6 -0.2l0.6 -0.2l0.6 -0.3l0.6 -0.1l0.6 -0.0l0.6 -0.1l0.6 -0.1l0.6 -0.4l0.6 -0.8l0.6 -0.7l0.6 -0.3l0.6 0.1l0.6 -0.2l0.6 -0.2l0.6 -0.2l0.6 -0.3l0.6 -0.2l0.6 -0.1l0.6 -0.3l0.6 -0.3l0.6 -0.1l0.6 -0.4l0.6 -0.6l0.6 -0.6l0.6 -0.6l0.6 -0.6l0.6 -0.3l0.6 0.0" stroke="#008000"/>
<path d="M383.0 20.4l0.6 0.4l0.6 0.3l0.6 -0.0l0.6 0.2l0.6 0.3l0.6 -0.1l0.6 0.1l0.6 0.6l0.6 0.8l0.6 0.4l0.6 0.1l0.6 0.2l0.6 0.4l0.6 0.5l0.6 0.5l0.6 0.2l0.6 0.4l0.6 0.5l0.6 0.3l0.6 -0.1l0.6 -0.1l0.6 0.2l0.6 0.2l0.6 0.2l0.6 0.4l0.6 0.4l0.6 0.2l0.6 0.2l0.6 0.7l0.6 0.7l0.6 0.4l0.6 0.3l0.6 0.1l0.6 -0.3l0.6 -0.1l0.7 0.3l0.6 0.2l0.6 0.3l0.6 0.4l0.6 0.3l0.6 0.1l0.6 0.3l0.6 0.5l0.6 0.4l0.6 0.3l0.6 0.4l0.6 0.2l0.6 0.5l0.6 0.5l0.6 0.1l0.6 -0.3l0.6 -0.1l0.6 0.3l0.6 0.5l0.6 0.7l0.6 0.6l0.6 0.2l0.6 -0.0l0.6 -0.1l0.6 0.3l0.6 0.7l0.6 0.5l0.6 -0.1l0.6 -0.1l0.6 0.4l0.6 0.4l0.6 0.2l0.6 0.1l0.6 0.1l0.6 0.1l0.6 0.2l0.6 0.2l0.6 -0.2l0.6 -0.0l0.6 0.4l0.6 1.0l0.6 0.8l0.6 0.2l0.6 0.2l0.6 0.1l0.6 0.1l0.6 -0.2l0.6 -0.1l0.6 0.3l0.6 0.5l0.6 0.2l0.6 -0.2l0.6 -0.2l0.6 0.3l0.6 0.6l0.6 0.5l0.6 0.3l0.6 0.4l0.6 0.2l0.6 0.1l0.6 0.4l0.6 0.2l0.6 0.1l0.6 0.2l0.6 0.3l0.6 0.2l0.6 -0.0l0.6 0.1l0.6 0.3l0.6 0.4l0.6 0.4l0.6 0.4l0.7 0.3l0.6 0.0l0.6 0.2l0.6 0.5l0.6 0.5l0.6 0.1l0.6 0.0l0.6 0.1l0.6 0.3l0.6 0.2l0.6 0.0l0.6 0.3l0.6 0.5l0.6 0.4l0.6 0.3l0.6 0.3l0.6 0.3l0.6 0.4l0.6 0.3l0.6 -0.3l0.6 -0.0l0.6 0.6l0.6 0.7l0.6 0.5l0.6 0.3l0.6 0.2l0.6 0.4l0.6 0.8l0.6 0.5l0.6 -0.2l0.6 -0.2l0.6 0.1l0.6 0.1l0.6 0.2l0.6 0.1l0.6 0.0l0.6 -0.0l0.6 0.1l0.6 0.5l0.6 0.4l0.6 -0.1l0.6 -0.5l0.6 -0.2l0.6 0.1l0.6 0.2l0.6 -0.1l0.6 -0.2l0.6 -0.0l0.6 0.2l0.6 0.4l0.6 0.5l0.6 0.4l0.6 0.2l0.6 -0.0l0.6 -0.4l0.6 -0.0l0.6 0.3l0.6 0.5l0.6 0.3l0.6 -0.1l0.6 -0.1l0.6 0.2l0.6 0.3l0.6 0.1l0.6 0.0l0.6 0.4l0.6 0.3l0.6 -0.1l0.6 -0.3l0.6 -0.6l0.6 -0.4l0.7 -0.2l0.6 0.2l0.6 0.1l0.6 -0.1l0.6 -0.0l0.6 0.1l0.6 0.1l0.6 -0.2l0.6 -0.4l0.6 -0.6l0.6 -0.4l0.6 0.0l0.6 0.1l0.6 -0.2l0.6 0.1l0.6 0.2l0.6 0.2l0.6 0.1l0.6 -0.1l0.6 0.0l0.6 0.0l0.6 0.0l0.6 0.1l0.6 0.2l0.6 0.1l0.6 -0.4l0.6 -0.6l0.6 -0.4l0.6 0.1l0.6 0.3l0.6 0.4l0.6 0.3l0.6 -0.2l0.6 -0.5l0.6 -0.4l0.6 -0.4l0.6 -0.4l0.6 -0.4l0.6 -0.1l0.6 -0.1l0.6 -0.3l0.6 -0.6l0.6 -0.6l0.6 -0.2l0.6 0.3l0.6 0.7l0.6 0.6l0.6 -0.0l0.6 -0.6l0.6 -0.5l0.6 -0.2l0.6 -0.2l0.6 -0.1l0.6 -0.2l0.6 -0.5l0.6 -0.5l0.6 -0.0l0.6 -0.0l0.6 -0.2l0.6 -0.4l0.6 -0.5l0.6 -0.5l0.6 -0.3l0.6 -0.0l0.6 0.0l0.6 0.1l0.6 -0.0l0.6 -0.1l0.6 0.0l0.6 0.2l0.6 -0.0l0.6 -0.3l0.7 -0.5l0.6 -0.7l0.6 -0.2l0.6 0.3l0.6 0.0l0.6 -0.4l0.6 -0.7l0.6 -0.7l0.6 -0.6l0.6 -0.5l0.6 -0.4l0.6 0.1l0.6 0.2l0.6 0.1l0.6 -0.2l0.6 -0.1l0.6 0.0l0.6 -0.1l0.6 -0.1l0.6 -0.0l0.6 -0.3l0.6 -0.4l0.6 -0.6l0.6 -0.6l0.6 -0.3l0.6 0.1l0.6 0.1l0.6 -0.1l0.6 -0.5l0.6 -0.4l0.6 0.1l0.6 0.1l0.6 -0.4l0.6 -0.5l0.6 -0.1l0.6 -0.1l0.6 0.1l0.6 -0.1l0.6 -0.3l0.6 -0.5l0.6 -0.3l0.6 -0.2l0.6 -0.3l0.6 -0.7l0.6 -0.7l0.6 -0.1l0.6 0.2l0.6 0.2l0.6 -0.1l0.6 -0.4l0.6 -0.6l0.6 -0.2l0.6 0.1l0.6 -0.0l0.6 -0.2l0.6 -0.2l0.6 -0.2l0.6 -0.1l0.6 0.0l0.6 -0.1l0.6 -0.4l0.6 -0.3l0.6 -0.0l0.6 -0.2l0.6 -0.3l0.6 -0.4l0.6 -0.2l0.6 -0.3l0.6 -0.5l0.6 -0.7l0.6 -0.6l0.7 -0.4l0.6 -0.0l0.6 0.0l0.6 -0.1l0.6 -0.3l0.6 -0.1l0.6 -0.1l0.6 -0.4l0.6 -0.6l0.6 -0.6l0.6 -0.2l0.6 -0.0l0.6 -0.1l0.6 -0.2l0.6 -0.0l0.6 -0.1l0.6 -0.2l0.6 -0.3l0.6 0.0l0.6 0.3l0.6 0.0l0.6 -0.2l0.6 -0.3l0.6 -0.4l0.6 -0.5l0.6 -0.4l0.6 -0.2l0.6 -0.2l0.6 -0.1l0.6 0.0l0.6 -0.2l0.6 -0.5l0.6 -0.6l0.6 -0.4l0.6 -0.0l0.6 -0.1l0.6 -0.4l0.6 -0.1l0.6 -0.1l0.6 -0.2l0.6 -0.3l0.6 -0.3l0.6 -0.2l0.6 -0.1l0.6 -0.1l0.6 -0.1l0.6 0.0l0.6 -0.0l0.6 -0.3l0.6 -0.5l0.6 -0.3l0.6 -0.0l0.6 -0.1l0.6 -0.2l0.6 -0.4l0.6 -0.6l0.6 -0.6l0.6 -0.3l0.6 -0.1l0.6 -0.2l0.6 -0.5l0.6 -0.5l0.6 -0.4l0.6 -0.3l0.6 -0.0l0.6 0.3l0.6 0.1l0.6 -0.4l0.6 -0.8l0.6 -0.5l0.6 0.0l0.6 0.1l0.7 -0.1l0.6 -0.5l0.6 -0.7l0.6 -0.4l0.6 -0.1l0.6 -0.1l0.6 -0.2l0.6 -0.2l0.6 -0.0l0.6 -0.0l0.6 -0.1l0.6 0.0l0.6 0.1l0.6 -0.2l0.6 -0.3l0.6 -0.4l0.6 -0.4l0.6 -0.5l0.6 -0.5l0.6 -0.5l0.6 -0.5l0.6 -0.1l0.6 0.2l0.6 0.1l0.6 -0.0l0.6 0.1l0.6 0.3l0.6 -0.1l0.6 -0.1l0.6 0.2l0.6 0.1l0.6 -0.3l0.6 -0.6l0.6 -0.7l0.6 -0.6l0.6 -0.4" stroke="#ff00ff"/>
<path d="M383.0 23.4l0.6 -0.3l0.6 -0.1l0.6 0.3l0.6 0.4l0.6 -0.1l0.6 -0.1l0.6 0.2l0.6 0.5l0.6 0.1l0.6 -0.4l0.6 -0.1l0.6 0.5l0.6 0.5l0.6 0.7l0.6 0.7l0.6 0.3l0.6 -0.0l0.6 0.1l0.6 0.1l0.6 -0.1l0.6 -0.2l0.6 0.1l0.6 0.7l0.6 0.9l0.6 0.3l0.6 -0.1l0.6 -0.0l0.6 0.2l0.6 0.3l0.6 0.4l0.6 0.5l0.6 0.4l0.6 0.2l0.6 0.3l0.6 0.6l0.7 0.4l0.6 0.1l0.6 -0.1l0.6 0.1l0.6 0.3l0.6 0.7l0.6 0.5l0.6 0.6l0.6 0.6l0.6 0.3l0.6 -0.1l0.6 -0.2l0.6 0.2l0.6 0.2l0.6 0.2l0.6 0.7l0.6 0.8l0.6 0.5l0.6 -0.0l0.6 -0.5l0.6 -0.4l0.6 -0.1l0.6 0.1l0.6 0.1l0.6 0.3l0.6 0.4l0.6 0.5l0.6 0.5l0.6 0.4l0.6 0.3l0.6 -0.0l0.6 -0.3l0.6 -0.2l0.6 0.2l0.6 0.1l0.6 0.0l0.6 0.1l0.6 0.2l0.6 0.3l0.6 0.2l0.6 0.1l0.6 0.1l0.6 0.1l0.6 0.7l0.6 0.9l0.6 0.6l0.6 0.2l0.6 0.0l0.6 0.2l0.6 0.0l0.6 0.1l0.6 0.2l0.6 0.1l0.6 0.4l0.6 0.3l0.6 -0.1l0.6 -0.3l0.6 -0.3l0.6 0.3l0.6 0.6l0.6 0.0l0.6 -0.5l0.6 -0.4l0.6 0.1l0.6 0.5l0.6 0.8l0.6 0.5l0.6 -0.0l0.6 -0.2l0.6 -0.1l0.6 0.2l0.6 0.6l0.7 1.0l0.6 0.8l0.6 0.1l0.6 -0.1l0.6 -0.1l0.6 -0.2l0.6 -0.2l0.6 0.1l0.6 0.4l0.6 0.4l0.6 0.2l0.6 0.3l0.6 0.3l0.6 0.3l0.6 0.2l0.6 0.0l0.6 -0.3l0.6 -0.1l0.6 0.4l0.6 0.4l0.6 -0.1l0.6 -0.4l0.6 -0.2l0.6 -0.1l0.6 0.0l0.6 0.1l0.6 0.2l0.6 0.3l0.6 0.2l0.6 0.1l0.6 0.1l0.6 0.2l0.6 0.3l0.6 0.3l0.6 0.4l0.6 0.2l0.6 -0.3l0.6 -0.3l0.6 0.2l0.6 0.3l0.6 -0.0l0.6 -0.1l0.6 0.2l0.6 0.4l0.6 0.3l0.6 0.0l0.6 -0.1l0.6 0.4l0.6 0.3l0.6 0.1l0.6 -0.1l0.6 -0.1l0.6 0.0l0.6 0.1l0.6 0.1l0.6 0.1l0.6 0.3l0.6 0.4l0.6 0.3l0.6 0.1l0.6 -0.3l0.6 -0.2l0.6 0.1l0.6 -0.2l0.6 -0.6l0.6 -0.6l0.6 -0.3l0.6 -0.1l0.6 -0.3l0.6 -0.7l0.6 -0.4l0.7 -0.0l0.6 0.2l0.6 0.1l0.6 -0.1l0.6 -0.3l0.6 -0.3l0.6 -0.2l0.6 -0.0l0.6 0.1l0.6 -0.1l0.6 -0.1l0.6 -0.1l0.6 -0.1l0.6 0.1l0.6 0.1l0.6 -0.3l0.6 -0.7l0.6 -0.5l0.6 0.1l0.6 0.3l0.6 0.0l0.6 0.1l0.6 -0.2l0.6 -0.7l0.6 -0.7l0.6 -0.3l0.6 0.3l0.6 0.2l0.6 -0.3l0.6 -0.6l0.6 -0.2l0.6 0.1l0.6 0.0l0.6 0.2l0.6 0.0l0.6 -0.2l0.6 -0.0l0.6 0.1l0.6 -0.2l0.6 -0.5l0.6 -0.4l0.6 -0.2l0.6 -0.2l0.6 -0.1l0.6 -0.3l0.6 -0.6l0.6 -0.4l0.6 -0.1l0.6 -0.1l0.6 -0.4l0.6 -0.2l0.6 0.0l0.6 0.2l0.6 0.0l0.6 -0.2l0.6 -0.6l0.6 -0.5l0.6 -0.4l0.6 -0.3l0.6 -0.4l0.6 -0.2l0.6 0.2l0.6 0.2l0.6 -0.1l0.6 -0.7l0.6 -0.6l0.6 0.0l0.6 0.5l0.6 0.2l0.6 -0.5l0.6 -0.7l0.6 -0.4l0.7 0.0l0.6 -0.1l0.6 -0.5l0.6 -0.5l0.6 0.0l0.6 0.2l0.6 -0.0l0.6 -0.2l0.6 -0.1l0.6 -0.1l0.6 -0.3l0.6 -0.1l0.6 -0.3l0.6 -0.4l0.6 -0.2l0.6 -0.3l0.6 -0.7l0.6 -0.7l0.6 -0.5l0.6 -0.2l0.6 0.0l0.6 0.2l0.6 0.2l0.6 0.2l0.6 0.1l0.6 -0.3l0.6 -0.7l0.6 -0.8l0.6 -0.1l0.6 0.2l0.6 -0.1l0.6 -0.4l0.6 -0.3l0.6 -0.2l0.6 0.1l0.6 0.3l0.6 -0.0l0.6 -0.5l0.6 -0.5l0.6 -0.3l0.6 -0.1l0.6 -0.3l0.6 -0.5l0.6 -0.5l0.6 -0.5l0.6 -0.2l0.6 0.3l0.6 0.5l0.6 0.1l0.6 -0.4l0.6 -0.5l0.6 -0.4l0.6 -0.3l0.6 -0.4l0.6 -0.3l0.6 -0.3l0.6 -0.1l0.6 0.0l0.6 0.1l0.6 -0.0l0.6 -0.0l0.6 -0.0l0.6 -0.1l0.6 -0.7l0.6 -0.7l0.6 -0.2l0.6 0.2l0.6 0.0l0.6 -0.1l0.6 -0.0l0.6 -0.2l0.7 -0.4l0.6 -0.5l0.6 -0.4l0.6 0.1l0.6 0.5l0.6 0.3l0.6 -0.0l0.6 -0.2l0.6 -0.4l0.6 -0.5l0.6 -0.6l0.6 -0.5l0.6 -0.4l0.6 -0.3l0.6 -0.3l0.6 -0.1l0.6 0.1l0.6 0.2l0.6 -0.0l0.6 -0.4l0.6 -0.7l0.6 -0.3l0.6 0.2l0.6 0.3l0.6 -0.1l0.6 -0.4l0.6 -0.3l0.6 -0.1l0.6 -0.2l0.6 -0.0l0.6 0.0l0.6 -0.2l0.6 -0.4l0.6 -0.4l0.6 -0.4l0.6 -0.6l0.6 -0.3l0.6 0.2l0.6 0.3l0.6 -0.0l0.6 -0.5l0.6 -0.5l0.6 -0.5l0.6 -0.5l0.6 -0.3l0.6 -0.0l0.6 0.3l0.6 -0.0l0.6 -0.3l0.6 -0.3l0.6 -0.0l0.6 -0.2l0.6 -0.4l0.6 -0.2l0.6 -0.0l0.6 -0.2l0.6 -0.3l0.6 -0.2l0.6 0.1l0.6 -0.1l0.6 -0.1l0.6 -0.2l0.6 -0.6l0.6 -0.6l0.6 -0.3l0.6 0.1l0.6 0.3l0.6 0.3l0.6 0.1l0.6 -0.2l0.6 -0.1l0.6 -0.1l0.7 -0.1l0.6 -0.4l0.6 -0.6l0.6 -0.7l0.6 -0.3l0.6 0.0l0.6 0.1l0.6 0.0l0.6 0.0l0.6 0.1l0.6 0.2l0.6 0.3l0.6 -0.3l0.6 -0.8l0.6 -0.5l0.6 -0.2l0.6 0.0l0.6 0.0l0.6 0.0l0.6 0.0l0.6 0.0l0.6 0.0l0.6 0.0l0.6 0.0l0.6 0.0l0.6 0.0l0.6 0.0l0.6 0.0l0.6 0.0l0.6 0.0l0.6 0.0l0.6 0.0l0.6 0.0l0.6 0.0l0.6 0.0l0.6 0.0" stroke="#808000"/>
<path d="M383.0 23.7l0.6 0.3l0.6 0.4l0.6 0.2l0.6 0.3l0.6 0.2l0.6 0.3l0.6 0.4l0.6 0.5l0.6 0.0l0.6 -0.2l0.6 0.3l0.6 0.5l0.6 0.3l0.6 0.1l0.6 0.4l0.6 0.5l0.6 0.4l0.6 0.5l0.6 0.4l0.6 -0.0l0.6 -0.2l0.6 -0.2l0.6 -0.3l0.6 0.1l0.6 0.4l0.6 0.8l0.6 1.0l0.6 0.6l0.6 0.0l0.6 0.1l0.6 0.2l0.6 0.1l0.6 -0.0l0.6 0.1l0.6 0.6l0.7 0.7l0.6 0.7l0.6 0.4l0.6 -0.0l0.6 -0.1l0.6 -0.0l0.6 -0.1l0.6 -0.1l0.6 0.0l0.6 0.8l0.6 0.9l0.6 0.2l0.6 -0.2l0.6 -0.1l0.6 0.2l0.6 0.2l0.6 0.2l0.6 0.3l0.6 -0.1l0.6 -0.0l0.6 0.2l0.6 0.4l0.6 0.2l0.6 0.2l0.6 0.1l0.6 0.0l0.6 0.2l0.6 0.6l0.6 0.5l0.6 0.2l0.6 -0.2l0.6 -0.3l0.6 0.2l0.6 0.7l0.6 0.3l0.6 -0.1l0.6 0.0l0.6 0.4l0.6 0.1l0.6 -0.2l0.6 0.0l0.6 0.2l0.6 0.1l0.6 0.2l0.6 0.2l0.6 0.2l0.6 0.1l0.6 -0.2l0.6 0.0l0.6 0.3l0.6 0.2l0.6 0.0l0.6 -0.3l0.6 -0.0l0.6 0.4l0.6 0.5l0.6 0.2l0.6 -0.0l0.6 0.1l0.6 0.3l0.6 0.5l0.6 0.7l0.6 0.4l0.6 -0.0l0.6 -0.1l0.6 -0.1l0.6 -0.2l0.6 -0.5l0.6 -0.2l0.6 0.3l0.6 0.2l0.6 0.0l0.7 0.4l0.6 0.4l0.6 0.2l0.6 -0.1l0.6 -0.1l0.6 0.1l0.6 0.3l0.6 0.4l0.6 0.3l0.6 -0.2l0.6 -0.4l0.6 -0.0l0.6 0.2l0.6 0.1l0.6 -0.2l0.6 -0.4l0.6 -0.2l0.6 0.2l0.6 0.6l0.6 0.3l0.6 0.2l0.6 0.2l0.6 0.3l0.6 0.3l0.6 -0.1l0.6 -0.2l0.6 -0.3l0.6 -0.2l0.6 0.1l0.6 0.1l0.6 -0.1l0.6 -0.4l0.6 -0.7l0.6 -0.5l0.6 -0.0l0.6 0.3l0.6 0.5l0.6 0.7l0.6 0.6l0.6 0.4l0.6 0.2l0.6 -0.2l0.6 -0.2l0.6 0.1l0.6 0.4l0.6 0.2l0.6 -0.0l0.6 -0.1l0.6 -0.1l0.6 -0.3l0.6 -0.2l0.6 0.1l0.6 0.5l0.6 0.5l0.6 0.4l0.6 0.0l0.6 -0.3l0.6 -0.4l0.6 -0.4l0.6 -0.2l0.6 0.1l0.6 0.1l0.6 0.1l0.6 -0.3l0.6 -0.5l0.6 -0.7l0.6 -0.7l0.6 -0.5l0.6 -0.3l0.6 -0.3l0.6 -0.2l0.7 -0.2l0.6 -0.3l0.6 -0.6l0.6 -0.2l0.6 0.3l0.6 0.3l0.6 0.0l0.6 -0.4l0.6 -0.6l0.6 -0.5l0.6 -0.4l0.6 -0.3l0.6 -0.0l0.6 0.1l0.6 0.1l0.6 -0.0l0.6 -0.4l0.6 -0.3l0.6 -0.2l0.6 -0.2l0.6 -0.1l0.6 0.1l0.6 0.0l0.6 -0.1l0.6 -0.3l0.6 -0.2l0.6 0.1l0.6 -0.1l0.6 -0.6l0.6 -0.8l0.6 -0.5l0.6 -0.1l0.6 0.1l0.6 0.4l0.6 0.3l0.6 -0.2l0.6 -0.4l0.6 -0.3l0.6 -0.4l0.6 -0.4l0.6 0.2l0.6 0.6l0.6 0.2l0.6 -0.5l0.6 -0.3l0.6 -0.1l0.6 -0.2l0.6 -0.3l0.6 -0.4l0.6 -0.0l0.6 0.1l0.6 0.1l0.6 -0.2l0.6 -0.6l0.6 -0.6l0.6 -0.3l0.6 0.1l0.6 0.1l0.6 -0.1l0.6 -0.0l0.6 0.0l0.6 0.0l0.6 -0.3l0.6 -0.5l0.6 -0.6l0.6 -0.4l0.6 -0.0l0.6 0.3l0.6 0.2l0.6 -0.4l0.6 -0.8l0.6 -0.6l0.7 -0.1l0.6 -0.0l0.6 -0.1l0.6 -0.2l0.6 -0.5l0.6 -0.5l0.6 -0.5l0.6 -0.2l0.6 0.0l0.6 -0.0l0.6 -0.2l0.6 -0.1l0.6 0.1l0.6 0.1l0.6 -0.1l0.6 -0.2l0.6 -0.1l0.6 -0.1l0.6 -0.3l0.6 -0.5l0.6 -0.2l0.6 -0.1l0.6 -0.2l0.6 -0.5l0.6 -0.5l0.6 -0.5l0.6 -0.2l0.6 0.2l0.6 0.4l0.6 0.1l0.6 -0.4l0.6 -0.4l0.6 -0.1l0.6 -0.1l0.6 -0.2l0.6 -0.1l0.6 -0.2l0.6 -0.1l0.6 -0.1l0.6 -0.1l0.6 -0.3l0.6 -0.3l0.6 -0.1l0.6 -0.2l0.6 -0.7l0.6 -0.4l0.6 -0.1l0.6 0.1l0.6 0.0l0.6 -0.0l0.6 -0.1l0.6 -0.4l0.6 -0.3l0.6 -0.3l0.6 -0.3l0.6 -0.5l0.6 -0.2l0.6 0.3l0.6 0.2l0.6 -0.2l0.6 -0.5l0.6 -0.7l0.6 -0.2l0.6 -0.0l0.6 -0.2l0.6 -0.3l0.6 -0.1l0.6 -0.1l0.6 -0.5l0.6 -0.7l0.6 -0.2l0.7 0.0l0.6 -0.1l0.6 -0.3l0.6 -0.5l0.6 -0.1l0.6 -0.0l0.6 -0.4l0.6 -0.8l0.6 -0.8l0.6 -0.3l0.6 0.1l0.6 -0.0l0.6 -0.2l0.6 -0.3l0.6 -0.2l0.6 -0.1l0.6 0.1l0.6 0.0l0.6 -0.2l0.6 -0.0l0.6 0.1l0.6 -0.2l0.6 -0.7l0.6 -0.7l0.6 -0.3l0.6 0.2l0.6 0.2l0.6 -0.3l0.6 -0.4l0.6 -0.0l0.6 0.1l0.6 -0.1l0.6 -0.1l0.6 -0.1l0.6 -0.2l0.6 -0.4l0.6 -0.2l0.6 0.1l0.6 0.0l0.6 -0.3l0.6 -0.2l0.6 -0.2l0.6 -0.2l0.6 -0.2l0.6 -0.1l0.6 0.1l0.6 0.2l0.6 -0.1l0.6 -0.6l0.6 -0.2l0.6 0.0l0.6 0.0l0.6 0.0l0.6 0.0l0.6 0.0l0.6 0.0l0.6 0.0l0.6 0.0l0.6 0.0l0.6 0.0l0.6 0.0l0.6 0.0l0.6 0.0l0.6 0.0l0.6 0.0l0.6 0.0l0.6 0.0l0.6 0.0l0.6 0.0l0.6 0.0l0.6 0.0l0.6 0.0l0.7 0.0l0.6 0.0l0.6 0.0l0.6 0.0l0.6 0.0l0.6 0.0l0.6 0.0l0.6 0.0l0.6 0.0l0.6 0.0l0.6 0.0l0.6 0.0l0.6 0.0l0.6 0.0l0.6 0.0l0.6 0.0l0.6 0.0l0.6 0.0l0.6 0.0l0.6 0.0l0.6 0.0l0.6 0.0l0.6 0.0l0.6 0.0l0.6 0.0l0.6 0.0l0.6 0.0l0.6 0.0l0.6 0.0l0.6 0.0l0.6 0.0l0.6 0.0l0.6 0.0l0.6 0.0l0.6 0.0l0.6 0.0" stroke="#000080"/>
</g>
<line x1="65.8" y1="83.7" x2="127.5" y2="83.7" stroke="#ff0000" stroke-width="2.6" stroke-dasharray="10 7.2"/>
<line x1="135.8" y1="39" x2="198" y2="39" stroke="#ff0000" stroke-width="2.6" stroke-dasharray="10 7.2"/>
<line x1="70.2" y1="182.5" x2="185" y2="182.5" stroke="#ff0000" stroke-width="2.6" stroke-dasharray="10 7.45"/>
<line x1="126.3" y1="86" x2="126.3" y2="181" stroke="#ff0000" stroke-width="1.2" stroke-dasharray="3 2.5"/>
<line x1="93.90" y1="85.50" x2="93.90" y2="110.70" stroke="#ff0000" stroke-width="2.60"/><polygon points="93.90,117.20 90.25,110.20 97.55,110.20" fill="#ff0000"/>
<line x1="93.30" y1="183.00" x2="93.30" y2="162.40" stroke="#ff0000" stroke-width="2.60"/><polygon points="93.30,155.90 96.95,162.90 89.65,162.90" fill="#ff0000"/>
<line x1="175.30" y1="39.00" x2="175.30" y2="86.70" stroke="#ff0000" stroke-width="2.60"/><polygon points="175.30,93.20 171.65,86.20 178.95,86.20" fill="#ff0000"/>
<line x1="174.80" y1="183.00" x2="174.80" y2="149.70" stroke="#ff0000" stroke-width="2.60"/><polygon points="174.80,143.20 178.45,150.20 171.15,150.20" fill="#ff0000"/>
<text x="80.3" y="139.8" class="an">25dB</text>
<text x="161.6" y="117.9" class="an">36dB</text>
<path d="M467.7 36.5V59.3M467.7 66.3V83.8M467.7 91.4V102.7M467.7 108.5V110" stroke="#ff0000" stroke-width="2.4"/>
<line x1="512.5" y1="37" x2="512.5" y2="161" stroke="#ff0000" stroke-width="2.4" stroke-dasharray="13 6"/>
<line x1="499.4" y1="147" x2="499.4" y2="208" stroke="#ff0000" stroke-width="2.4" stroke-dasharray="8.5 2.8"/>
<line x1="467.70" y1="40.30" x2="477.50" y2="40.30" stroke="#ff0000" stroke-width="2.20"/><polygon points="483.00,40.30 477.00,43.30 477.00,37.30" fill="#ff0000"/>
<line x1="512.50" y1="40.00" x2="503.40" y2="40.00" stroke="#ff0000" stroke-width="2.20"/><polygon points="497.90,40.00 503.90,37.00 503.90,43.00" fill="#ff0000"/>
<line x1="483.20" y1="157.20" x2="492.70" y2="157.20" stroke="#ff0000" stroke-width="2.20"/><polygon points="498.20,157.20 492.20,160.20 492.20,154.20" fill="#ff0000"/>
<line x1="527.50" y1="157.20" x2="519.10" y2="157.20" stroke="#ff0000" stroke-width="2.20"/><polygon points="513.60,157.20 519.60,154.20 519.60,160.20" fill="#ff0000"/>
<g fill="#000080"><circle cx="454.5" cy="39.9" r="1.30"/><circle cx="458.7" cy="41.2" r="1.30"/><circle cx="462.9" cy="42.7" r="1.30"/><circle cx="466.9" cy="44.4" r="1.30"/><circle cx="470.9" cy="46.4" r="1.30"/><circle cx="474.7" cy="48.6" r="1.30"/><circle cx="478.4" cy="50.9" r="1.30"/><circle cx="482.0" cy="53.5" r="1.30"/><circle cx="485.4" cy="56.2" r="1.30"/><circle cx="488.7" cy="59.1" r="1.30"/><circle cx="491.8" cy="62.3" r="1.30"/><circle cx="494.7" cy="65.5" r="1.30"/><circle cx="497.5" cy="69.0" r="1.30"/><circle cx="500.0" cy="72.6" r="1.30"/><circle cx="502.2" cy="76.4" r="1.30"/><circle cx="504.3" cy="80.3" r="1.30"/><circle cx="506.1" cy="84.3" r="1.30"/><circle cx="507.6" cy="88.4" r="1.30"/><circle cx="508.9" cy="92.6" r="1.30"/><circle cx="510.0" cy="96.9" r="1.30"/><circle cx="510.9" cy="101.2" r="1.30"/><circle cx="511.6" cy="105.5" r="1.30"/><circle cx="512.1" cy="109.9" r="1.30"/><circle cx="512.4" cy="114.3" r="1.30"/><circle cx="512.6" cy="118.7" r="1.30"/><circle cx="512.6" cy="123.1" r="1.30"/><circle cx="512.5" cy="127.5" r="1.30"/><circle cx="512.2" cy="131.9" r="1.30"/><circle cx="511.9" cy="136.3" r="1.30"/><circle cx="511.5" cy="140.6" r="1.30"/><circle cx="510.9" cy="145.0" r="1.30"/><circle cx="510.3" cy="149.4" r="1.30"/><circle cx="509.6" cy="153.7" r="1.30"/><circle cx="508.8" cy="158.1" r="1.30"/><circle cx="508.0" cy="162.4" r="1.30"/><circle cx="507.1" cy="166.6" r="1.30"/><circle cx="506.2" cy="171.0" r="1.30"/><circle cx="505.2" cy="175.3" r="1.30"/><circle cx="504.2" cy="179.5" r="1.30"/><circle cx="503.2" cy="183.8" r="1.30"/><circle cx="502.1" cy="188.1" r="1.30"/><circle cx="501.0" cy="192.4" r="1.30"/><circle cx="499.9" cy="196.6" r="1.30"/><circle cx="498.8" cy="200.9" r="1.30"/><circle cx="497.7" cy="205.2" r="1.30"/><circle cx="496.6" cy="209.4" r="1.30"/><circle cx="495.5" cy="213.6" r="1.30"/><circle cx="494.5" cy="217.9" r="1.30"/></g>
<text x="470.3" y="27.7" class="an2">185pm</text>
<text x="530.8" y="161.9" class="an2">66pm</text>
<rect x="48.0" y="11.6" width="258.0" height="207.40" fill="none" stroke="#000" stroke-width="1.6"/>
<rect x="383.0" y="11.6" width="258.0" height="207.40" fill="none" stroke="#000" stroke-width="1.6"/>
<path d="M48.00 11.00h5M48.00 48.73h5M48.00 86.45h5M48.00 124.18h5M48.00 161.91h5M48.00 199.64h5M48.00 29.86h3M48.00 67.59h3M48.00 105.32h3M48.00 143.05h3M48.00 180.77h3M48.00 218.50h3M48.00 218.80v-5M134.00 218.80v-5M220.00 218.80v-5M306.00 218.80v-5M91.00 218.80v-3M177.00 218.80v-3M263.00 218.80v-3M383.00 45.50h5M383.00 114.50h5M383.00 183.50h5M383.00 80.00h3M383.00 149.00h3M383.00 218.80v-5M426.00 218.80v-5M469.00 218.80v-5M512.00 218.80v-5M555.00 218.80v-5M598.00 218.80v-5M641.00 218.80v-5M404.50 218.80v-3M447.50 218.80v-3M490.50 218.80v-3M533.50 218.80v-3M576.50 218.80v-3M619.50 218.80v-3" stroke="#000" stroke-width="1.4" fill="none"/>
<text x="43.6" y="15.00" text-anchor="end" class="tk">-20</text>
<text x="43.6" y="52.73" text-anchor="end" class="tk">-30</text>
<text x="43.6" y="90.45" text-anchor="end" class="tk">-40</text>
<text x="43.6" y="128.18" text-anchor="end" class="tk">-50</text>
<text x="43.6" y="165.91" text-anchor="end" class="tk">-60</text>
<text x="43.6" y="203.64" text-anchor="end" class="tk">-70</text>
<text x="48.00" y="232.3" text-anchor="middle" class="tk">1545</text>
<text x="134.00" y="232.3" text-anchor="middle" class="tk">1550</text>
<text x="220.00" y="232.3" text-anchor="middle" class="tk">1555</text>
<text x="306.00" y="232.3" text-anchor="middle" class="tk">1560</text>
<text x="378.2" y="49.50" text-anchor="end" class="tk">-40</text>
<text x="378.2" y="118.50" text-anchor="end" class="tk">-50</text>
<text x="378.2" y="187.50" text-anchor="end" class="tk">-60</text>
<text x="383.00" y="232.4" text-anchor="middle" class="tk">1549.0</text>
<text x="426.00" y="232.4" text-anchor="middle" class="tk">1549.2</text>
<text x="469.00" y="232.4" text-anchor="middle" class="tk">1549.4</text>
<text x="512.00" y="232.4" text-anchor="middle" class="tk">1549.6</text>
<text x="555.00" y="232.4" text-anchor="middle" class="tk">1549.8</text>
<text x="598.00" y="232.4" text-anchor="middle" class="tk">1550.0</text>
<text x="641.00" y="232.4" text-anchor="middle" class="tk">1550.2</text>
<line x1="249.7" y1="88.70" x2="274.7" y2="88.70" stroke="#000000" stroke-width="1.25"/>
<text x="277.0" y="92.55" class="lg">0.0V</text>
<line x1="249.7" y1="102.10" x2="274.7" y2="102.10" stroke="#ff0000" stroke-width="1.25"/>
<text x="277.0" y="105.95" class="lg">0.5V</text>
<line x1="249.7" y1="115.50" x2="274.7" y2="115.50" stroke="#0000ff" stroke-width="1.25"/>
<text x="277.0" y="119.35" class="lg">1.0V</text>
<line x1="249.7" y1="128.90" x2="274.7" y2="128.90" stroke="#008000" stroke-width="1.25"/>
<text x="277.0" y="132.75" class="lg">1.5V</text>
<line x1="249.7" y1="142.30" x2="274.7" y2="142.30" stroke="#ff00ff" stroke-width="1.25"/>
<text x="277.0" y="146.15" class="lg">2.0V</text>
<line x1="249.7" y1="155.70" x2="274.7" y2="155.70" stroke="#808000" stroke-width="1.25"/>
<text x="277.0" y="159.55" class="lg">2.5V</text>
<line x1="249.7" y1="169.10" x2="274.7" y2="169.10" stroke="#000080" stroke-width="1.25"/>
<text x="277.0" y="172.95" class="lg">3.0V</text>
<line x1="585.2" y1="110.00" x2="610.2" y2="110.00" stroke="#000000" stroke-width="1.25"/>
<text x="612.5" y="113.85" class="lg">0.0V</text>
<line x1="585.2" y1="123.25" x2="610.2" y2="123.25" stroke="#ff0000" stroke-width="1.25"/>
<text x="612.5" y="127.10" class="lg">0.5V</text>
<line x1="585.2" y1="136.50" x2="610.2" y2="136.50" stroke="#0000ff" stroke-width="1.25"/>
<text x="612.5" y="140.35" class="lg">1.0V</text>
<line x1="585.2" y1="149.75" x2="610.2" y2="149.75" stroke="#008000" stroke-width="1.25"/>
<text x="612.5" y="153.60" class="lg">1.5V</text>
<line x1="585.2" y1="163.00" x2="610.2" y2="163.00" stroke="#ff00ff" stroke-width="1.25"/>
<text x="612.5" y="166.85" class="lg">2.0V</text>
<line x1="585.2" y1="176.25" x2="610.2" y2="176.25" stroke="#808000" stroke-width="1.25"/>
<text x="612.5" y="180.10" class="lg">2.5V</text>
<line x1="585.2" y1="189.50" x2="610.2" y2="189.50" stroke="#000080" stroke-width="1.25"/>
<text x="612.5" y="193.35" class="lg">3.0V</text>
<text class="ax" x="176.7" y="254.2" text-anchor="middle">Wavelength (nm)</text>
<text class="ax" x="512" y="254.2" text-anchor="middle">Wavelength (nm)</text>
<text class="ay" transform="translate(12.8 106.4) rotate(-90)" text-anchor="middle">Transmission (dBm)</text>
<text class="ay" transform="translate(352.2 106.7) rotate(-90)" text-anchor="middle">Transmission (dBm)</text>
<text class="pl" transform="translate(3.0 13.9) scale(0.9 1)">a</text>
<text class="pl" x="345.4" y="13.6" style="font-size:17px">b</text>
</svg>
</body></html>
